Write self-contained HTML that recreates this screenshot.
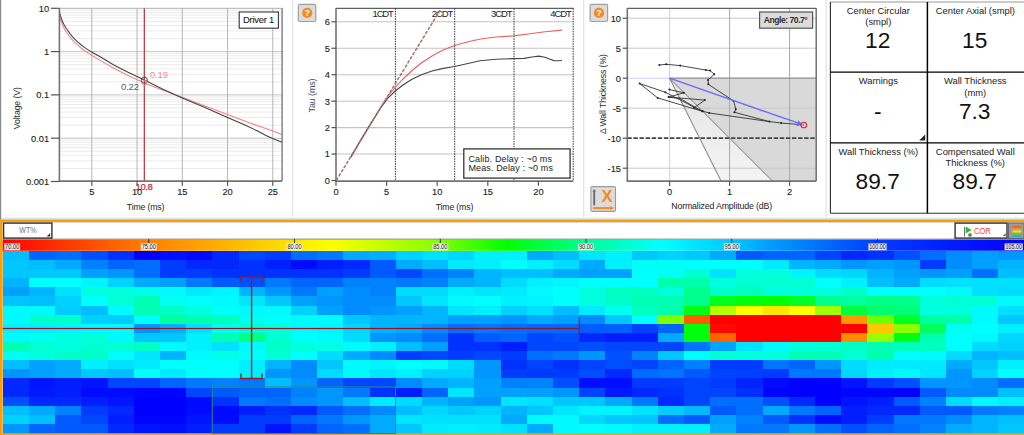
<!DOCTYPE html><html><head><meta charset="utf-8"><title>ui</title><style>html,body{margin:0;padding:0;background:#fff;overflow:hidden}svg{display:block}text{font-family:"Liberation Sans",sans-serif}</style></head><body>
<svg width="1024" height="435" viewBox="0 0 1024 435">
<rect x="0" y="0" width="1024" height="435" fill="#ffffff"/>
<g shape-rendering="crispEdges">
<rect x="2.70" y="250.80" width="26.70" height="9.62" fill="rgb(0, 190, 255)"/>
<rect x="28.90" y="250.80" width="26.70" height="9.62" fill="rgb(0, 100, 255)"/>
<rect x="55.10" y="250.80" width="26.70" height="9.62" fill="rgb(0, 110, 255)"/>
<rect x="81.30" y="250.80" width="26.70" height="9.62" fill="rgb(0, 80, 255)"/>
<rect x="107.50" y="250.80" width="26.70" height="9.62" fill="rgb(0, 50, 255)"/>
<rect x="133.70" y="250.80" width="26.70" height="9.62" fill="rgb(0, 0, 255)"/>
<rect x="159.90" y="250.80" width="26.70" height="9.62" fill="rgb(0, 15, 255)"/>
<rect x="186.10" y="250.80" width="26.70" height="9.62" fill="rgb(0, 10, 255)"/>
<rect x="212.30" y="250.80" width="26.70" height="9.62" fill="rgb(0, 40, 255)"/>
<rect x="238.50" y="250.80" width="26.70" height="9.62" fill="rgb(0, 70, 255)"/>
<rect x="264.70" y="250.80" width="26.70" height="9.62" fill="rgb(0, 60, 255)"/>
<rect x="290.90" y="250.80" width="26.70" height="9.62" fill="rgb(0, 110, 255)"/>
<rect x="317.10" y="250.80" width="26.70" height="9.62" fill="rgb(0, 120, 255)"/>
<rect x="343.30" y="250.80" width="26.70" height="9.62" fill="rgb(0, 170, 255)"/>
<rect x="369.50" y="250.80" width="26.70" height="9.62" fill="rgb(0, 175, 255)"/>
<rect x="395.70" y="250.80" width="26.70" height="9.62" fill="rgb(0, 210, 255)"/>
<rect x="421.90" y="250.80" width="26.70" height="9.62" fill="rgb(0, 225, 255)"/>
<rect x="448.10" y="250.80" width="26.70" height="9.62" fill="rgb(0, 215, 255)"/>
<rect x="474.30" y="250.80" width="26.70" height="9.62" fill="rgb(0, 240, 255)"/>
<rect x="500.50" y="250.80" width="26.70" height="9.62" fill="rgb(0, 240, 255)"/>
<rect x="526.70" y="250.80" width="26.70" height="9.62" fill="rgb(0, 170, 255)"/>
<rect x="552.90" y="250.80" width="26.70" height="9.62" fill="rgb(0, 190, 255)"/>
<rect x="579.10" y="250.80" width="26.70" height="9.62" fill="rgb(0, 230, 255)"/>
<rect x="605.30" y="250.80" width="26.70" height="9.62" fill="rgb(0, 240, 255)"/>
<rect x="631.50" y="250.80" width="26.70" height="9.62" fill="rgb(0, 200, 255)"/>
<rect x="657.70" y="250.80" width="26.70" height="9.62" fill="rgb(0, 210, 255)"/>
<rect x="683.90" y="250.80" width="26.70" height="9.62" fill="rgb(0, 200, 255)"/>
<rect x="710.10" y="250.80" width="26.70" height="9.62" fill="rgb(0, 170, 255)"/>
<rect x="736.30" y="250.80" width="26.70" height="9.62" fill="rgb(0, 90, 255)"/>
<rect x="762.50" y="250.80" width="26.70" height="9.62" fill="rgb(0, 100, 255)"/>
<rect x="788.70" y="250.80" width="26.70" height="9.62" fill="rgb(0, 100, 255)"/>
<rect x="814.90" y="250.80" width="26.70" height="9.62" fill="rgb(0, 70, 255)"/>
<rect x="841.10" y="250.80" width="26.70" height="9.62" fill="rgb(0, 40, 255)"/>
<rect x="867.30" y="250.80" width="26.70" height="9.62" fill="rgb(0, 50, 255)"/>
<rect x="893.50" y="250.80" width="26.70" height="9.62" fill="rgb(0, 80, 255)"/>
<rect x="919.70" y="250.80" width="26.70" height="9.62" fill="rgb(0, 110, 255)"/>
<rect x="945.90" y="250.80" width="26.70" height="9.62" fill="rgb(0, 140, 255)"/>
<rect x="972.10" y="250.80" width="26.70" height="9.62" fill="rgb(0, 160, 255)"/>
<rect x="998.30" y="250.80" width="26.70" height="9.62" fill="rgb(0, 150, 255)"/>
<rect x="2.70" y="259.92" width="26.70" height="9.62" fill="rgb(0, 200, 255)"/>
<rect x="28.90" y="259.92" width="26.70" height="9.62" fill="rgb(0, 190, 255)"/>
<rect x="55.10" y="259.92" width="26.70" height="9.62" fill="rgb(0, 170, 255)"/>
<rect x="81.30" y="259.92" width="26.70" height="9.62" fill="rgb(0, 130, 255)"/>
<rect x="107.50" y="259.92" width="26.70" height="9.62" fill="rgb(0, 100, 255)"/>
<rect x="133.70" y="259.92" width="26.70" height="9.62" fill="rgb(0, 110, 255)"/>
<rect x="159.90" y="259.92" width="26.70" height="9.62" fill="rgb(0, 60, 255)"/>
<rect x="186.10" y="259.92" width="26.70" height="9.62" fill="rgb(0, 40, 255)"/>
<rect x="212.30" y="259.92" width="26.70" height="9.62" fill="rgb(0, 40, 255)"/>
<rect x="238.50" y="259.92" width="26.70" height="9.62" fill="rgb(0, 50, 255)"/>
<rect x="264.70" y="259.92" width="26.70" height="9.62" fill="rgb(0, 30, 255)"/>
<rect x="290.90" y="259.92" width="26.70" height="9.62" fill="rgb(0, 10, 255)"/>
<rect x="317.10" y="259.92" width="26.70" height="9.62" fill="rgb(0, 30, 255)"/>
<rect x="343.30" y="259.92" width="26.70" height="9.62" fill="rgb(0, 40, 255)"/>
<rect x="369.50" y="259.92" width="26.70" height="9.62" fill="rgb(0, 90, 255)"/>
<rect x="395.70" y="259.92" width="26.70" height="9.62" fill="rgb(0, 170, 255)"/>
<rect x="421.90" y="259.92" width="26.70" height="9.62" fill="rgb(0, 190, 255)"/>
<rect x="448.10" y="259.92" width="26.70" height="9.62" fill="rgb(0, 235, 255)"/>
<rect x="474.30" y="259.92" width="26.70" height="9.62" fill="rgb(0, 240, 255)"/>
<rect x="500.50" y="259.92" width="26.70" height="9.62" fill="rgb(0, 255, 255)"/>
<rect x="526.70" y="259.92" width="26.70" height="9.62" fill="rgb(0, 240, 255)"/>
<rect x="552.90" y="259.92" width="26.70" height="9.62" fill="rgb(0, 220, 255)"/>
<rect x="579.10" y="259.92" width="26.70" height="9.62" fill="rgb(0, 170, 255)"/>
<rect x="605.30" y="259.92" width="26.70" height="9.62" fill="rgb(0, 240, 255)"/>
<rect x="631.50" y="259.92" width="26.70" height="9.62" fill="rgb(0, 255, 245)"/>
<rect x="657.70" y="259.92" width="26.70" height="9.62" fill="rgb(0, 255, 245)"/>
<rect x="683.90" y="259.92" width="26.70" height="9.62" fill="rgb(0, 255, 255)"/>
<rect x="710.10" y="259.92" width="26.70" height="9.62" fill="rgb(0, 255, 255)"/>
<rect x="736.30" y="259.92" width="26.70" height="9.62" fill="rgb(0, 255, 255)"/>
<rect x="762.50" y="259.92" width="26.70" height="9.62" fill="rgb(0, 235, 255)"/>
<rect x="788.70" y="259.92" width="26.70" height="9.62" fill="rgb(0, 180, 255)"/>
<rect x="814.90" y="259.92" width="26.70" height="9.62" fill="rgb(0, 170, 255)"/>
<rect x="841.10" y="259.92" width="26.70" height="9.62" fill="rgb(0, 150, 255)"/>
<rect x="867.30" y="259.92" width="26.70" height="9.62" fill="rgb(0, 160, 255)"/>
<rect x="893.50" y="259.92" width="26.70" height="9.62" fill="rgb(0, 150, 255)"/>
<rect x="919.70" y="259.92" width="26.70" height="9.62" fill="rgb(0, 60, 255)"/>
<rect x="945.90" y="259.92" width="26.70" height="9.62" fill="rgb(0, 140, 255)"/>
<rect x="972.10" y="259.92" width="26.70" height="9.62" fill="rgb(0, 160, 255)"/>
<rect x="998.30" y="259.92" width="26.70" height="9.62" fill="rgb(0, 180, 255)"/>
<rect x="2.70" y="269.04" width="26.70" height="9.62" fill="rgb(0, 200, 255)"/>
<rect x="28.90" y="269.04" width="26.70" height="9.62" fill="rgb(0, 200, 255)"/>
<rect x="55.10" y="269.04" width="26.70" height="9.62" fill="rgb(0, 200, 255)"/>
<rect x="81.30" y="269.04" width="26.70" height="9.62" fill="rgb(0, 160, 255)"/>
<rect x="107.50" y="269.04" width="26.70" height="9.62" fill="rgb(0, 150, 255)"/>
<rect x="133.70" y="269.04" width="26.70" height="9.62" fill="rgb(0, 110, 255)"/>
<rect x="159.90" y="269.04" width="26.70" height="9.62" fill="rgb(0, 60, 255)"/>
<rect x="186.10" y="269.04" width="26.70" height="9.62" fill="rgb(0, 60, 255)"/>
<rect x="212.30" y="269.04" width="26.70" height="9.62" fill="rgb(0, 50, 255)"/>
<rect x="238.50" y="269.04" width="26.70" height="9.62" fill="rgb(0, 50, 255)"/>
<rect x="264.70" y="269.04" width="26.70" height="9.62" fill="rgb(0, 50, 255)"/>
<rect x="290.90" y="269.04" width="26.70" height="9.62" fill="rgb(0, 50, 255)"/>
<rect x="317.10" y="269.04" width="26.70" height="9.62" fill="rgb(0, 50, 255)"/>
<rect x="343.30" y="269.04" width="26.70" height="9.62" fill="rgb(0, 60, 255)"/>
<rect x="369.50" y="269.04" width="26.70" height="9.62" fill="rgb(0, 90, 255)"/>
<rect x="395.70" y="269.04" width="26.70" height="9.62" fill="rgb(0, 70, 255)"/>
<rect x="421.90" y="269.04" width="26.70" height="9.62" fill="rgb(0, 110, 255)"/>
<rect x="448.10" y="269.04" width="26.70" height="9.62" fill="rgb(0, 130, 255)"/>
<rect x="474.30" y="269.04" width="26.70" height="9.62" fill="rgb(0, 180, 255)"/>
<rect x="500.50" y="269.04" width="26.70" height="9.62" fill="rgb(0, 190, 255)"/>
<rect x="526.70" y="269.04" width="26.70" height="9.62" fill="rgb(0, 190, 255)"/>
<rect x="552.90" y="269.04" width="26.70" height="9.62" fill="rgb(0, 170, 255)"/>
<rect x="579.10" y="269.04" width="26.70" height="9.62" fill="rgb(0, 160, 255)"/>
<rect x="605.30" y="269.04" width="26.70" height="9.62" fill="rgb(0, 160, 255)"/>
<rect x="631.50" y="269.04" width="26.70" height="9.62" fill="rgb(0, 255, 255)"/>
<rect x="657.70" y="269.04" width="26.70" height="9.62" fill="rgb(0, 255, 245)"/>
<rect x="683.90" y="269.04" width="26.70" height="9.62" fill="rgb(0, 255, 210)"/>
<rect x="710.10" y="269.04" width="26.70" height="9.62" fill="rgb(0, 225, 255)"/>
<rect x="736.30" y="269.04" width="26.70" height="9.62" fill="rgb(0, 255, 220)"/>
<rect x="762.50" y="269.04" width="26.70" height="9.62" fill="rgb(0, 255, 220)"/>
<rect x="788.70" y="269.04" width="26.70" height="9.62" fill="rgb(0, 245, 255)"/>
<rect x="814.90" y="269.04" width="26.70" height="9.62" fill="rgb(0, 220, 255)"/>
<rect x="841.10" y="269.04" width="26.70" height="9.62" fill="rgb(0, 215, 255)"/>
<rect x="867.30" y="269.04" width="26.70" height="9.62" fill="rgb(0, 180, 255)"/>
<rect x="893.50" y="269.04" width="26.70" height="9.62" fill="rgb(0, 160, 255)"/>
<rect x="919.70" y="269.04" width="26.70" height="9.62" fill="rgb(0, 150, 255)"/>
<rect x="945.90" y="269.04" width="26.70" height="9.62" fill="rgb(0, 160, 255)"/>
<rect x="972.10" y="269.04" width="26.70" height="9.62" fill="rgb(0, 110, 255)"/>
<rect x="998.30" y="269.04" width="26.70" height="9.62" fill="rgb(0, 190, 255)"/>
<rect x="2.70" y="278.16" width="26.70" height="9.62" fill="rgb(0, 180, 255)"/>
<rect x="28.90" y="278.16" width="26.70" height="9.62" fill="rgb(0, 255, 255)"/>
<rect x="55.10" y="278.16" width="26.70" height="9.62" fill="rgb(0, 255, 255)"/>
<rect x="81.30" y="278.16" width="26.70" height="9.62" fill="rgb(0, 245, 255)"/>
<rect x="107.50" y="278.16" width="26.70" height="9.62" fill="rgb(0, 210, 255)"/>
<rect x="133.70" y="278.16" width="26.70" height="9.62" fill="rgb(0, 170, 255)"/>
<rect x="159.90" y="278.16" width="26.70" height="9.62" fill="rgb(0, 160, 255)"/>
<rect x="186.10" y="278.16" width="26.70" height="9.62" fill="rgb(0, 120, 255)"/>
<rect x="212.30" y="278.16" width="26.70" height="9.62" fill="rgb(0, 90, 255)"/>
<rect x="238.50" y="278.16" width="26.70" height="9.62" fill="rgb(0, 80, 255)"/>
<rect x="264.70" y="278.16" width="26.70" height="9.62" fill="rgb(0, 120, 255)"/>
<rect x="290.90" y="278.16" width="26.70" height="9.62" fill="rgb(0, 100, 255)"/>
<rect x="317.10" y="278.16" width="26.70" height="9.62" fill="rgb(0, 100, 255)"/>
<rect x="343.30" y="278.16" width="26.70" height="9.62" fill="rgb(0, 130, 255)"/>
<rect x="369.50" y="278.16" width="26.70" height="9.62" fill="rgb(0, 130, 255)"/>
<rect x="395.70" y="278.16" width="26.70" height="9.62" fill="rgb(0, 120, 255)"/>
<rect x="421.90" y="278.16" width="26.70" height="9.62" fill="rgb(0, 130, 255)"/>
<rect x="448.10" y="278.16" width="26.70" height="9.62" fill="rgb(0, 170, 255)"/>
<rect x="474.30" y="278.16" width="26.70" height="9.62" fill="rgb(0, 180, 255)"/>
<rect x="500.50" y="278.16" width="26.70" height="9.62" fill="rgb(0, 220, 255)"/>
<rect x="526.70" y="278.16" width="26.70" height="9.62" fill="rgb(0, 240, 255)"/>
<rect x="552.90" y="278.16" width="26.70" height="9.62" fill="rgb(0, 245, 255)"/>
<rect x="579.10" y="278.16" width="26.70" height="9.62" fill="rgb(0, 255, 255)"/>
<rect x="605.30" y="278.16" width="26.70" height="9.62" fill="rgb(0, 255, 255)"/>
<rect x="631.50" y="278.16" width="26.70" height="9.62" fill="rgb(0, 255, 255)"/>
<rect x="657.70" y="278.16" width="26.70" height="9.62" fill="rgb(0, 255, 170)"/>
<rect x="683.90" y="278.16" width="26.70" height="9.62" fill="rgb(0, 255, 170)"/>
<rect x="710.10" y="278.16" width="26.70" height="9.62" fill="rgb(0, 255, 220)"/>
<rect x="736.30" y="278.16" width="26.70" height="9.62" fill="rgb(0, 255, 210)"/>
<rect x="762.50" y="278.16" width="26.70" height="9.62" fill="rgb(0, 255, 210)"/>
<rect x="788.70" y="278.16" width="26.70" height="9.62" fill="rgb(0, 255, 210)"/>
<rect x="814.90" y="278.16" width="26.70" height="9.62" fill="rgb(0, 255, 255)"/>
<rect x="841.10" y="278.16" width="26.70" height="9.62" fill="rgb(0, 240, 255)"/>
<rect x="867.30" y="278.16" width="26.70" height="9.62" fill="rgb(0, 190, 255)"/>
<rect x="893.50" y="278.16" width="26.70" height="9.62" fill="rgb(0, 170, 255)"/>
<rect x="919.70" y="278.16" width="26.70" height="9.62" fill="rgb(0, 220, 255)"/>
<rect x="945.90" y="278.16" width="26.70" height="9.62" fill="rgb(0, 225, 255)"/>
<rect x="972.10" y="278.16" width="26.70" height="9.62" fill="rgb(0, 225, 255)"/>
<rect x="998.30" y="278.16" width="26.70" height="9.62" fill="rgb(0, 225, 255)"/>
<rect x="2.70" y="287.28" width="26.70" height="9.62" fill="rgb(0, 160, 255)"/>
<rect x="28.90" y="287.28" width="26.70" height="9.62" fill="rgb(0, 180, 255)"/>
<rect x="55.10" y="287.28" width="26.70" height="9.62" fill="rgb(0, 225, 255)"/>
<rect x="81.30" y="287.28" width="26.70" height="9.62" fill="rgb(0, 255, 220)"/>
<rect x="107.50" y="287.28" width="26.70" height="9.62" fill="rgb(0, 255, 220)"/>
<rect x="133.70" y="287.28" width="26.70" height="9.62" fill="rgb(0, 255, 235)"/>
<rect x="159.90" y="287.28" width="26.70" height="9.62" fill="rgb(0, 250, 255)"/>
<rect x="186.10" y="287.28" width="26.70" height="9.62" fill="rgb(0, 235, 255)"/>
<rect x="212.30" y="287.28" width="26.70" height="9.62" fill="rgb(0, 245, 255)"/>
<rect x="238.50" y="287.28" width="26.70" height="9.62" fill="rgb(0, 180, 255)"/>
<rect x="264.70" y="287.28" width="26.70" height="9.62" fill="rgb(0, 150, 255)"/>
<rect x="290.90" y="287.28" width="26.70" height="9.62" fill="rgb(0, 120, 255)"/>
<rect x="317.10" y="287.28" width="26.70" height="9.62" fill="rgb(0, 160, 255)"/>
<rect x="343.30" y="287.28" width="26.70" height="9.62" fill="rgb(0, 140, 255)"/>
<rect x="369.50" y="287.28" width="26.70" height="9.62" fill="rgb(0, 130, 255)"/>
<rect x="395.70" y="287.28" width="26.70" height="9.62" fill="rgb(0, 220, 255)"/>
<rect x="421.90" y="287.28" width="26.70" height="9.62" fill="rgb(0, 220, 255)"/>
<rect x="448.10" y="287.28" width="26.70" height="9.62" fill="rgb(0, 240, 255)"/>
<rect x="474.30" y="287.28" width="26.70" height="9.62" fill="rgb(0, 230, 255)"/>
<rect x="500.50" y="287.28" width="26.70" height="9.62" fill="rgb(0, 235, 255)"/>
<rect x="526.70" y="287.28" width="26.70" height="9.62" fill="rgb(0, 250, 255)"/>
<rect x="552.90" y="287.28" width="26.70" height="9.62" fill="rgb(0, 255, 255)"/>
<rect x="579.10" y="287.28" width="26.70" height="9.62" fill="rgb(0, 255, 220)"/>
<rect x="605.30" y="287.28" width="26.70" height="9.62" fill="rgb(0, 255, 190)"/>
<rect x="631.50" y="287.28" width="26.70" height="9.62" fill="rgb(0, 255, 190)"/>
<rect x="657.70" y="287.28" width="26.70" height="9.62" fill="rgb(0, 255, 220)"/>
<rect x="683.90" y="287.28" width="26.70" height="9.62" fill="rgb(0, 255, 140)"/>
<rect x="710.10" y="287.28" width="26.70" height="9.62" fill="rgb(0, 255, 200)"/>
<rect x="736.30" y="287.28" width="26.70" height="9.62" fill="rgb(0, 255, 190)"/>
<rect x="762.50" y="287.28" width="26.70" height="9.62" fill="rgb(0, 255, 220)"/>
<rect x="788.70" y="287.28" width="26.70" height="9.62" fill="rgb(0, 255, 220)"/>
<rect x="814.90" y="287.28" width="26.70" height="9.62" fill="rgb(0, 255, 225)"/>
<rect x="841.10" y="287.28" width="26.70" height="9.62" fill="rgb(0, 255, 200)"/>
<rect x="867.30" y="287.28" width="26.70" height="9.62" fill="rgb(0, 255, 255)"/>
<rect x="893.50" y="287.28" width="26.70" height="9.62" fill="rgb(0, 255, 255)"/>
<rect x="919.70" y="287.28" width="26.70" height="9.62" fill="rgb(0, 255, 255)"/>
<rect x="945.90" y="287.28" width="26.70" height="9.62" fill="rgb(0, 250, 255)"/>
<rect x="972.10" y="287.28" width="26.70" height="9.62" fill="rgb(0, 225, 255)"/>
<rect x="998.30" y="287.28" width="26.70" height="9.62" fill="rgb(0, 220, 255)"/>
<rect x="2.70" y="296.40" width="26.70" height="9.62" fill="rgb(0, 195, 255)"/>
<rect x="28.90" y="296.40" width="26.70" height="9.62" fill="rgb(0, 190, 255)"/>
<rect x="55.10" y="296.40" width="26.70" height="9.62" fill="rgb(0, 210, 255)"/>
<rect x="81.30" y="296.40" width="26.70" height="9.62" fill="rgb(0, 255, 255)"/>
<rect x="107.50" y="296.40" width="26.70" height="9.62" fill="rgb(0, 255, 215)"/>
<rect x="133.70" y="296.40" width="26.70" height="9.62" fill="rgb(0, 255, 180)"/>
<rect x="159.90" y="296.40" width="26.70" height="9.62" fill="rgb(0, 255, 240)"/>
<rect x="186.10" y="296.40" width="26.70" height="9.62" fill="rgb(0, 255, 255)"/>
<rect x="212.30" y="296.40" width="26.70" height="9.62" fill="rgb(0, 250, 255)"/>
<rect x="238.50" y="296.40" width="26.70" height="9.62" fill="rgb(0, 230, 255)"/>
<rect x="264.70" y="296.40" width="26.70" height="9.62" fill="rgb(0, 200, 255)"/>
<rect x="290.90" y="296.40" width="26.70" height="9.62" fill="rgb(0, 160, 255)"/>
<rect x="317.10" y="296.40" width="26.70" height="9.62" fill="rgb(0, 150, 255)"/>
<rect x="343.30" y="296.40" width="26.70" height="9.62" fill="rgb(0, 140, 255)"/>
<rect x="369.50" y="296.40" width="26.70" height="9.62" fill="rgb(0, 140, 255)"/>
<rect x="395.70" y="296.40" width="26.70" height="9.62" fill="rgb(0, 200, 255)"/>
<rect x="421.90" y="296.40" width="26.70" height="9.62" fill="rgb(0, 230, 255)"/>
<rect x="448.10" y="296.40" width="26.70" height="9.62" fill="rgb(0, 250, 255)"/>
<rect x="474.30" y="296.40" width="26.70" height="9.62" fill="rgb(0, 255, 255)"/>
<rect x="500.50" y="296.40" width="26.70" height="9.62" fill="rgb(0, 240, 255)"/>
<rect x="526.70" y="296.40" width="26.70" height="9.62" fill="rgb(0, 245, 255)"/>
<rect x="552.90" y="296.40" width="26.70" height="9.62" fill="rgb(0, 255, 255)"/>
<rect x="579.10" y="296.40" width="26.70" height="9.62" fill="rgb(0, 255, 220)"/>
<rect x="605.30" y="296.40" width="26.70" height="9.62" fill="rgb(0, 255, 200)"/>
<rect x="631.50" y="296.40" width="26.70" height="9.62" fill="rgb(0, 255, 180)"/>
<rect x="657.70" y="296.40" width="26.70" height="9.62" fill="rgb(0, 255, 180)"/>
<rect x="683.90" y="296.40" width="26.70" height="9.62" fill="rgb(0, 255, 140)"/>
<rect x="710.10" y="296.40" width="26.70" height="9.62" fill="rgb(0, 255, 30)"/>
<rect x="736.30" y="296.40" width="26.70" height="9.62" fill="rgb(0, 255, 10)"/>
<rect x="762.50" y="296.40" width="26.70" height="9.62" fill="rgb(0, 255, 5)"/>
<rect x="788.70" y="296.40" width="26.70" height="9.62" fill="rgb(0, 255, 40)"/>
<rect x="814.90" y="296.40" width="26.70" height="9.62" fill="rgb(0, 255, 140)"/>
<rect x="841.10" y="296.40" width="26.70" height="9.62" fill="rgb(0, 255, 160)"/>
<rect x="867.30" y="296.40" width="26.70" height="9.62" fill="rgb(0, 255, 135)"/>
<rect x="893.50" y="296.40" width="26.70" height="9.62" fill="rgb(0, 255, 140)"/>
<rect x="919.70" y="296.40" width="26.70" height="9.62" fill="rgb(0, 255, 220)"/>
<rect x="945.90" y="296.40" width="26.70" height="9.62" fill="rgb(0, 255, 210)"/>
<rect x="972.10" y="296.40" width="26.70" height="9.62" fill="rgb(0, 255, 210)"/>
<rect x="998.30" y="296.40" width="26.70" height="9.62" fill="rgb(0, 250, 255)"/>
<rect x="2.70" y="305.52" width="26.70" height="9.62" fill="rgb(0, 250, 255)"/>
<rect x="28.90" y="305.52" width="26.70" height="9.62" fill="rgb(0, 250, 255)"/>
<rect x="55.10" y="305.52" width="26.70" height="9.62" fill="rgb(0, 205, 255)"/>
<rect x="81.30" y="305.52" width="26.70" height="9.62" fill="rgb(0, 190, 255)"/>
<rect x="107.50" y="305.52" width="26.70" height="9.62" fill="rgb(0, 250, 255)"/>
<rect x="133.70" y="305.52" width="26.70" height="9.62" fill="rgb(0, 255, 180)"/>
<rect x="159.90" y="305.52" width="26.70" height="9.62" fill="rgb(0, 255, 200)"/>
<rect x="186.10" y="305.52" width="26.70" height="9.62" fill="rgb(0, 255, 225)"/>
<rect x="212.30" y="305.52" width="26.70" height="9.62" fill="rgb(0, 255, 250)"/>
<rect x="238.50" y="305.52" width="26.70" height="9.62" fill="rgb(0, 250, 255)"/>
<rect x="264.70" y="305.52" width="26.70" height="9.62" fill="rgb(0, 250, 255)"/>
<rect x="290.90" y="305.52" width="26.70" height="9.62" fill="rgb(0, 210, 255)"/>
<rect x="317.10" y="305.52" width="26.70" height="9.62" fill="rgb(0, 160, 255)"/>
<rect x="343.30" y="305.52" width="26.70" height="9.62" fill="rgb(0, 140, 255)"/>
<rect x="369.50" y="305.52" width="26.70" height="9.62" fill="rgb(0, 150, 255)"/>
<rect x="395.70" y="305.52" width="26.70" height="9.62" fill="rgb(0, 160, 255)"/>
<rect x="421.90" y="305.52" width="26.70" height="9.62" fill="rgb(0, 180, 255)"/>
<rect x="448.10" y="305.52" width="26.70" height="9.62" fill="rgb(0, 230, 255)"/>
<rect x="474.30" y="305.52" width="26.70" height="9.62" fill="rgb(0, 240, 255)"/>
<rect x="500.50" y="305.52" width="26.70" height="9.62" fill="rgb(0, 210, 255)"/>
<rect x="526.70" y="305.52" width="26.70" height="9.62" fill="rgb(0, 225, 255)"/>
<rect x="552.90" y="305.52" width="26.70" height="9.62" fill="rgb(0, 190, 255)"/>
<rect x="579.10" y="305.52" width="26.70" height="9.62" fill="rgb(0, 235, 255)"/>
<rect x="605.30" y="305.52" width="26.70" height="9.62" fill="rgb(0, 255, 240)"/>
<rect x="631.50" y="305.52" width="26.70" height="9.62" fill="rgb(0, 255, 190)"/>
<rect x="657.70" y="305.52" width="26.70" height="9.62" fill="rgb(0, 255, 170)"/>
<rect x="683.90" y="305.52" width="26.70" height="9.62" fill="rgb(0, 255, 20)"/>
<rect x="710.10" y="305.52" width="26.70" height="9.62" fill="rgb(180, 255, 0)"/>
<rect x="736.30" y="305.52" width="26.70" height="9.62" fill="rgb(255, 255, 0)"/>
<rect x="762.50" y="305.52" width="26.70" height="9.62" fill="rgb(255, 230, 0)"/>
<rect x="788.70" y="305.52" width="26.70" height="9.62" fill="rgb(255, 255, 0)"/>
<rect x="814.90" y="305.52" width="26.70" height="9.62" fill="rgb(160, 255, 0)"/>
<rect x="841.10" y="305.52" width="26.70" height="9.62" fill="rgb(0, 255, 60)"/>
<rect x="867.30" y="305.52" width="26.70" height="9.62" fill="rgb(0, 255, 110)"/>
<rect x="893.50" y="305.52" width="26.70" height="9.62" fill="rgb(0, 255, 120)"/>
<rect x="919.70" y="305.52" width="26.70" height="9.62" fill="rgb(0, 255, 220)"/>
<rect x="945.90" y="305.52" width="26.70" height="9.62" fill="rgb(0, 255, 220)"/>
<rect x="972.10" y="305.52" width="26.70" height="9.62" fill="rgb(0, 250, 255)"/>
<rect x="998.30" y="305.52" width="26.70" height="9.62" fill="rgb(0, 225, 255)"/>
<rect x="2.70" y="314.64" width="26.70" height="9.62" fill="rgb(0, 250, 255)"/>
<rect x="28.90" y="314.64" width="26.70" height="9.62" fill="rgb(0, 255, 200)"/>
<rect x="55.10" y="314.64" width="26.70" height="9.62" fill="rgb(0, 255, 200)"/>
<rect x="81.30" y="314.64" width="26.70" height="9.62" fill="rgb(0, 210, 255)"/>
<rect x="107.50" y="314.64" width="26.70" height="9.62" fill="rgb(0, 205, 255)"/>
<rect x="133.70" y="314.64" width="26.70" height="9.62" fill="rgb(0, 255, 250)"/>
<rect x="159.90" y="314.64" width="26.70" height="9.62" fill="rgb(0, 255, 160)"/>
<rect x="186.10" y="314.64" width="26.70" height="9.62" fill="rgb(0, 255, 175)"/>
<rect x="212.30" y="314.64" width="26.70" height="9.62" fill="rgb(0, 255, 190)"/>
<rect x="238.50" y="314.64" width="26.70" height="9.62" fill="rgb(0, 255, 240)"/>
<rect x="264.70" y="314.64" width="26.70" height="9.62" fill="rgb(0, 255, 255)"/>
<rect x="290.90" y="314.64" width="26.70" height="9.62" fill="rgb(0, 250, 255)"/>
<rect x="317.10" y="314.64" width="26.70" height="9.62" fill="rgb(0, 250, 255)"/>
<rect x="343.30" y="314.64" width="26.70" height="9.62" fill="rgb(0, 200, 255)"/>
<rect x="369.50" y="314.64" width="26.70" height="9.62" fill="rgb(0, 180, 255)"/>
<rect x="395.70" y="314.64" width="26.70" height="9.62" fill="rgb(0, 180, 255)"/>
<rect x="421.90" y="314.64" width="26.70" height="9.62" fill="rgb(0, 180, 255)"/>
<rect x="448.10" y="314.64" width="26.70" height="9.62" fill="rgb(0, 160, 255)"/>
<rect x="474.30" y="314.64" width="26.70" height="9.62" fill="rgb(0, 160, 255)"/>
<rect x="500.50" y="314.64" width="26.70" height="9.62" fill="rgb(0, 150, 255)"/>
<rect x="526.70" y="314.64" width="26.70" height="9.62" fill="rgb(0, 170, 255)"/>
<rect x="552.90" y="314.64" width="26.70" height="9.62" fill="rgb(0, 160, 255)"/>
<rect x="579.10" y="314.64" width="26.70" height="9.62" fill="rgb(0, 140, 255)"/>
<rect x="605.30" y="314.64" width="26.70" height="9.62" fill="rgb(0, 200, 255)"/>
<rect x="631.50" y="314.64" width="26.70" height="9.62" fill="rgb(0, 255, 255)"/>
<rect x="657.70" y="314.64" width="26.70" height="9.62" fill="rgb(130, 255, 0)"/>
<rect x="683.90" y="314.64" width="26.70" height="9.62" fill="rgb(255, 90, 0)"/>
<rect x="710.10" y="314.64" width="26.70" height="9.62" fill="rgb(255, 0, 0)"/>
<rect x="736.30" y="314.64" width="26.70" height="9.62" fill="rgb(255, 0, 0)"/>
<rect x="762.50" y="314.64" width="26.70" height="9.62" fill="rgb(255, 0, 0)"/>
<rect x="788.70" y="314.64" width="26.70" height="9.62" fill="rgb(255, 0, 0)"/>
<rect x="814.90" y="314.64" width="26.70" height="9.62" fill="rgb(255, 0, 0)"/>
<rect x="841.10" y="314.64" width="26.70" height="9.62" fill="rgb(255, 150, 0)"/>
<rect x="867.30" y="314.64" width="26.70" height="9.62" fill="rgb(110, 255, 0)"/>
<rect x="893.50" y="314.64" width="26.70" height="9.62" fill="rgb(0, 255, 40)"/>
<rect x="919.70" y="314.64" width="26.70" height="9.62" fill="rgb(0, 255, 160)"/>
<rect x="945.90" y="314.64" width="26.70" height="9.62" fill="rgb(0, 255, 170)"/>
<rect x="972.10" y="314.64" width="26.70" height="9.62" fill="rgb(0, 250, 255)"/>
<rect x="998.30" y="314.64" width="26.70" height="9.62" fill="rgb(0, 200, 255)"/>
<rect x="2.70" y="323.76" width="26.70" height="9.62" fill="rgb(0, 240, 255)"/>
<rect x="28.90" y="323.76" width="26.70" height="9.62" fill="rgb(0, 240, 255)"/>
<rect x="55.10" y="323.76" width="26.70" height="9.62" fill="rgb(0, 245, 255)"/>
<rect x="81.30" y="323.76" width="26.70" height="9.62" fill="rgb(0, 250, 255)"/>
<rect x="107.50" y="323.76" width="26.70" height="9.62" fill="rgb(0, 250, 255)"/>
<rect x="133.70" y="323.76" width="26.70" height="9.62" fill="rgb(0, 150, 255)"/>
<rect x="159.90" y="323.76" width="26.70" height="9.62" fill="rgb(0, 175, 255)"/>
<rect x="186.10" y="323.76" width="26.70" height="9.62" fill="rgb(0, 225, 255)"/>
<rect x="212.30" y="323.76" width="26.70" height="9.62" fill="rgb(0, 255, 240)"/>
<rect x="238.50" y="323.76" width="26.70" height="9.62" fill="rgb(0, 255, 210)"/>
<rect x="264.70" y="323.76" width="26.70" height="9.62" fill="rgb(0, 255, 220)"/>
<rect x="290.90" y="323.76" width="26.70" height="9.62" fill="rgb(0, 250, 255)"/>
<rect x="317.10" y="323.76" width="26.70" height="9.62" fill="rgb(0, 245, 255)"/>
<rect x="343.30" y="323.76" width="26.70" height="9.62" fill="rgb(0, 215, 255)"/>
<rect x="369.50" y="323.76" width="26.70" height="9.62" fill="rgb(0, 180, 255)"/>
<rect x="395.70" y="323.76" width="26.70" height="9.62" fill="rgb(0, 170, 255)"/>
<rect x="421.90" y="323.76" width="26.70" height="9.62" fill="rgb(0, 140, 255)"/>
<rect x="448.10" y="323.76" width="26.70" height="9.62" fill="rgb(0, 110, 255)"/>
<rect x="474.30" y="323.76" width="26.70" height="9.62" fill="rgb(0, 120, 255)"/>
<rect x="500.50" y="323.76" width="26.70" height="9.62" fill="rgb(0, 110, 255)"/>
<rect x="526.70" y="323.76" width="26.70" height="9.62" fill="rgb(0, 105, 255)"/>
<rect x="552.90" y="323.76" width="26.70" height="9.62" fill="rgb(0, 105, 255)"/>
<rect x="579.10" y="323.76" width="26.70" height="9.62" fill="rgb(0, 92, 255)"/>
<rect x="605.30" y="323.76" width="26.70" height="9.62" fill="rgb(0, 95, 255)"/>
<rect x="631.50" y="323.76" width="26.70" height="9.62" fill="rgb(0, 65, 255)"/>
<rect x="657.70" y="323.76" width="26.70" height="9.62" fill="rgb(0, 100, 255)"/>
<rect x="683.90" y="323.76" width="26.70" height="9.62" fill="rgb(0, 255, 10)"/>
<rect x="710.10" y="323.76" width="26.70" height="9.62" fill="rgb(255, 10, 0)"/>
<rect x="736.30" y="323.76" width="26.70" height="9.62" fill="rgb(255, 0, 0)"/>
<rect x="762.50" y="323.76" width="26.70" height="9.62" fill="rgb(255, 0, 0)"/>
<rect x="788.70" y="323.76" width="26.70" height="9.62" fill="rgb(255, 0, 0)"/>
<rect x="814.90" y="323.76" width="26.70" height="9.62" fill="rgb(255, 0, 0)"/>
<rect x="841.10" y="323.76" width="26.70" height="9.62" fill="rgb(255, 0, 0)"/>
<rect x="867.30" y="323.76" width="26.70" height="9.62" fill="rgb(255, 200, 0)"/>
<rect x="893.50" y="323.76" width="26.70" height="9.62" fill="rgb(140, 255, 0)"/>
<rect x="919.70" y="323.76" width="26.70" height="9.62" fill="rgb(0, 255, 90)"/>
<rect x="945.90" y="323.76" width="26.70" height="9.62" fill="rgb(0, 255, 240)"/>
<rect x="972.10" y="323.76" width="26.70" height="9.62" fill="rgb(0, 255, 255)"/>
<rect x="998.30" y="323.76" width="26.70" height="9.62" fill="rgb(0, 240, 255)"/>
<rect x="2.70" y="332.88" width="26.70" height="9.62" fill="rgb(0, 250, 255)"/>
<rect x="28.90" y="332.88" width="26.70" height="9.62" fill="rgb(0, 255, 240)"/>
<rect x="55.10" y="332.88" width="26.70" height="9.62" fill="rgb(0, 255, 225)"/>
<rect x="81.30" y="332.88" width="26.70" height="9.62" fill="rgb(0, 255, 215)"/>
<rect x="107.50" y="332.88" width="26.70" height="9.62" fill="rgb(0, 250, 255)"/>
<rect x="133.70" y="332.88" width="26.70" height="9.62" fill="rgb(0, 200, 255)"/>
<rect x="159.90" y="332.88" width="26.70" height="9.62" fill="rgb(0, 200, 255)"/>
<rect x="186.10" y="332.88" width="26.70" height="9.62" fill="rgb(0, 240, 255)"/>
<rect x="212.30" y="332.88" width="26.70" height="9.62" fill="rgb(0, 255, 180)"/>
<rect x="238.50" y="332.88" width="26.70" height="9.62" fill="rgb(0, 255, 130)"/>
<rect x="264.70" y="332.88" width="26.70" height="9.62" fill="rgb(0, 255, 210)"/>
<rect x="290.90" y="332.88" width="26.70" height="9.62" fill="rgb(0, 255, 255)"/>
<rect x="317.10" y="332.88" width="26.70" height="9.62" fill="rgb(0, 250, 255)"/>
<rect x="343.30" y="332.88" width="26.70" height="9.62" fill="rgb(0, 220, 255)"/>
<rect x="369.50" y="332.88" width="26.70" height="9.62" fill="rgb(0, 150, 255)"/>
<rect x="395.70" y="332.88" width="26.70" height="9.62" fill="rgb(0, 140, 255)"/>
<rect x="421.90" y="332.88" width="26.70" height="9.62" fill="rgb(0, 110, 255)"/>
<rect x="448.10" y="332.88" width="26.70" height="9.62" fill="rgb(0, 50, 255)"/>
<rect x="474.30" y="332.88" width="26.70" height="9.62" fill="rgb(0, 90, 255)"/>
<rect x="500.50" y="332.88" width="26.70" height="9.62" fill="rgb(0, 100, 255)"/>
<rect x="526.70" y="332.88" width="26.70" height="9.62" fill="rgb(0, 70, 255)"/>
<rect x="552.90" y="332.88" width="26.70" height="9.62" fill="rgb(0, 80, 255)"/>
<rect x="579.10" y="332.88" width="26.70" height="9.62" fill="rgb(0, 40, 255)"/>
<rect x="605.30" y="332.88" width="26.70" height="9.62" fill="rgb(0, 30, 255)"/>
<rect x="631.50" y="332.88" width="26.70" height="9.62" fill="rgb(0, 30, 255)"/>
<rect x="657.70" y="332.88" width="26.70" height="9.62" fill="rgb(0, 170, 255)"/>
<rect x="683.90" y="332.88" width="26.70" height="9.62" fill="rgb(0, 255, 10)"/>
<rect x="710.10" y="332.88" width="26.70" height="9.62" fill="rgb(255, 100, 0)"/>
<rect x="736.30" y="332.88" width="26.70" height="9.62" fill="rgb(255, 0, 0)"/>
<rect x="762.50" y="332.88" width="26.70" height="9.62" fill="rgb(255, 0, 0)"/>
<rect x="788.70" y="332.88" width="26.70" height="9.62" fill="rgb(255, 0, 0)"/>
<rect x="814.90" y="332.88" width="26.70" height="9.62" fill="rgb(255, 0, 0)"/>
<rect x="841.10" y="332.88" width="26.70" height="9.62" fill="rgb(255, 140, 0)"/>
<rect x="867.30" y="332.88" width="26.70" height="9.62" fill="rgb(150, 255, 0)"/>
<rect x="893.50" y="332.88" width="26.70" height="9.62" fill="rgb(0, 255, 20)"/>
<rect x="919.70" y="332.88" width="26.70" height="9.62" fill="rgb(0, 255, 180)"/>
<rect x="945.90" y="332.88" width="26.70" height="9.62" fill="rgb(0, 255, 255)"/>
<rect x="972.10" y="332.88" width="26.70" height="9.62" fill="rgb(0, 250, 255)"/>
<rect x="998.30" y="332.88" width="26.70" height="9.62" fill="rgb(0, 215, 255)"/>
<rect x="2.70" y="342.00" width="26.70" height="9.62" fill="rgb(0, 255, 180)"/>
<rect x="28.90" y="342.00" width="26.70" height="9.62" fill="rgb(0, 255, 210)"/>
<rect x="55.10" y="342.00" width="26.70" height="9.62" fill="rgb(0, 255, 220)"/>
<rect x="81.30" y="342.00" width="26.70" height="9.62" fill="rgb(0, 255, 210)"/>
<rect x="107.50" y="342.00" width="26.70" height="9.62" fill="rgb(0, 255, 210)"/>
<rect x="133.70" y="342.00" width="26.70" height="9.62" fill="rgb(0, 255, 200)"/>
<rect x="159.90" y="342.00" width="26.70" height="9.62" fill="rgb(0, 250, 255)"/>
<rect x="186.10" y="342.00" width="26.70" height="9.62" fill="rgb(0, 240, 255)"/>
<rect x="212.30" y="342.00" width="26.70" height="9.62" fill="rgb(0, 225, 255)"/>
<rect x="238.50" y="342.00" width="26.70" height="9.62" fill="rgb(0, 250, 255)"/>
<rect x="264.70" y="342.00" width="26.70" height="9.62" fill="rgb(0, 255, 200)"/>
<rect x="290.90" y="342.00" width="26.70" height="9.62" fill="rgb(0, 255, 220)"/>
<rect x="317.10" y="342.00" width="26.70" height="9.62" fill="rgb(0, 255, 230)"/>
<rect x="343.30" y="342.00" width="26.70" height="9.62" fill="rgb(0, 250, 255)"/>
<rect x="369.50" y="342.00" width="26.70" height="9.62" fill="rgb(0, 240, 255)"/>
<rect x="395.70" y="342.00" width="26.70" height="9.62" fill="rgb(0, 190, 255)"/>
<rect x="421.90" y="342.00" width="26.70" height="9.62" fill="rgb(0, 160, 255)"/>
<rect x="448.10" y="342.00" width="26.70" height="9.62" fill="rgb(0, 50, 255)"/>
<rect x="474.30" y="342.00" width="26.70" height="9.62" fill="rgb(0, 50, 255)"/>
<rect x="500.50" y="342.00" width="26.70" height="9.62" fill="rgb(0, 30, 255)"/>
<rect x="526.70" y="342.00" width="26.70" height="9.62" fill="rgb(0, 70, 255)"/>
<rect x="552.90" y="342.00" width="26.70" height="9.62" fill="rgb(0, 70, 255)"/>
<rect x="579.10" y="342.00" width="26.70" height="9.62" fill="rgb(0, 80, 255)"/>
<rect x="605.30" y="342.00" width="26.70" height="9.62" fill="rgb(0, 70, 255)"/>
<rect x="631.50" y="342.00" width="26.70" height="9.62" fill="rgb(0, 70, 255)"/>
<rect x="657.70" y="342.00" width="26.70" height="9.62" fill="rgb(0, 70, 255)"/>
<rect x="683.90" y="342.00" width="26.70" height="9.62" fill="rgb(0, 118, 255)"/>
<rect x="710.10" y="342.00" width="26.70" height="9.62" fill="rgb(0, 165, 255)"/>
<rect x="736.30" y="342.00" width="26.70" height="9.62" fill="rgb(0, 228, 255)"/>
<rect x="762.50" y="342.00" width="26.70" height="9.62" fill="rgb(0, 250, 255)"/>
<rect x="788.70" y="342.00" width="26.70" height="9.62" fill="rgb(0, 255, 220)"/>
<rect x="814.90" y="342.00" width="26.70" height="9.62" fill="rgb(0, 255, 210)"/>
<rect x="841.10" y="342.00" width="26.70" height="9.62" fill="rgb(0, 255, 200)"/>
<rect x="867.30" y="342.00" width="26.70" height="9.62" fill="rgb(0, 255, 180)"/>
<rect x="893.50" y="342.00" width="26.70" height="9.62" fill="rgb(0, 255, 190)"/>
<rect x="919.70" y="342.00" width="26.70" height="9.62" fill="rgb(0, 255, 190)"/>
<rect x="945.90" y="342.00" width="26.70" height="9.62" fill="rgb(0, 255, 255)"/>
<rect x="972.10" y="342.00" width="26.70" height="9.62" fill="rgb(0, 220, 255)"/>
<rect x="998.30" y="342.00" width="26.70" height="9.62" fill="rgb(0, 210, 255)"/>
<rect x="2.70" y="351.12" width="26.70" height="9.62" fill="rgb(0, 255, 240)"/>
<rect x="28.90" y="351.12" width="26.70" height="9.62" fill="rgb(0, 255, 220)"/>
<rect x="55.10" y="351.12" width="26.70" height="9.62" fill="rgb(0, 255, 200)"/>
<rect x="81.30" y="351.12" width="26.70" height="9.62" fill="rgb(0, 255, 200)"/>
<rect x="107.50" y="351.12" width="26.70" height="9.62" fill="rgb(0, 255, 250)"/>
<rect x="133.70" y="351.12" width="26.70" height="9.62" fill="rgb(0, 230, 255)"/>
<rect x="159.90" y="351.12" width="26.70" height="9.62" fill="rgb(0, 180, 255)"/>
<rect x="186.10" y="351.12" width="26.70" height="9.62" fill="rgb(0, 250, 255)"/>
<rect x="212.30" y="351.12" width="26.70" height="9.62" fill="rgb(0, 255, 230)"/>
<rect x="238.50" y="351.12" width="26.70" height="9.62" fill="rgb(0, 255, 250)"/>
<rect x="264.70" y="351.12" width="26.70" height="9.62" fill="rgb(0, 255, 210)"/>
<rect x="290.90" y="351.12" width="26.70" height="9.62" fill="rgb(0, 255, 255)"/>
<rect x="317.10" y="351.12" width="26.70" height="9.62" fill="rgb(0, 220, 255)"/>
<rect x="343.30" y="351.12" width="26.70" height="9.62" fill="rgb(0, 170, 255)"/>
<rect x="369.50" y="351.12" width="26.70" height="9.62" fill="rgb(0, 140, 255)"/>
<rect x="395.70" y="351.12" width="26.70" height="9.62" fill="rgb(0, 60, 255)"/>
<rect x="421.90" y="351.12" width="26.70" height="9.62" fill="rgb(0, 70, 255)"/>
<rect x="448.10" y="351.12" width="26.70" height="9.62" fill="rgb(0, 60, 255)"/>
<rect x="474.30" y="351.12" width="26.70" height="9.62" fill="rgb(0, 70, 255)"/>
<rect x="500.50" y="351.12" width="26.70" height="9.62" fill="rgb(0, 60, 255)"/>
<rect x="526.70" y="351.12" width="26.70" height="9.62" fill="rgb(0, 110, 255)"/>
<rect x="552.90" y="351.12" width="26.70" height="9.62" fill="rgb(0, 120, 255)"/>
<rect x="579.10" y="351.12" width="26.70" height="9.62" fill="rgb(0, 150, 255)"/>
<rect x="605.30" y="351.12" width="26.70" height="9.62" fill="rgb(0, 80, 255)"/>
<rect x="631.50" y="351.12" width="26.70" height="9.62" fill="rgb(0, 130, 255)"/>
<rect x="657.70" y="351.12" width="26.70" height="9.62" fill="rgb(0, 200, 255)"/>
<rect x="683.90" y="351.12" width="26.70" height="9.62" fill="rgb(0, 255, 255)"/>
<rect x="710.10" y="351.12" width="26.70" height="9.62" fill="rgb(0, 255, 210)"/>
<rect x="736.30" y="351.12" width="26.70" height="9.62" fill="rgb(0, 255, 220)"/>
<rect x="762.50" y="351.12" width="26.70" height="9.62" fill="rgb(0, 255, 220)"/>
<rect x="788.70" y="351.12" width="26.70" height="9.62" fill="rgb(0, 255, 180)"/>
<rect x="814.90" y="351.12" width="26.70" height="9.62" fill="rgb(0, 255, 180)"/>
<rect x="841.10" y="351.12" width="26.70" height="9.62" fill="rgb(0, 255, 210)"/>
<rect x="867.30" y="351.12" width="26.70" height="9.62" fill="rgb(0, 255, 170)"/>
<rect x="893.50" y="351.12" width="26.70" height="9.62" fill="rgb(0, 255, 250)"/>
<rect x="919.70" y="351.12" width="26.70" height="9.62" fill="rgb(0, 250, 255)"/>
<rect x="945.90" y="351.12" width="26.70" height="9.62" fill="rgb(0, 220, 255)"/>
<rect x="972.10" y="351.12" width="26.70" height="9.62" fill="rgb(0, 180, 255)"/>
<rect x="998.30" y="351.12" width="26.70" height="9.62" fill="rgb(0, 190, 255)"/>
<rect x="2.70" y="360.24" width="26.70" height="9.62" fill="rgb(0, 190, 255)"/>
<rect x="28.90" y="360.24" width="26.70" height="9.62" fill="rgb(0, 160, 255)"/>
<rect x="55.10" y="360.24" width="26.70" height="9.62" fill="rgb(0, 170, 255)"/>
<rect x="81.30" y="360.24" width="26.70" height="9.62" fill="rgb(0, 240, 255)"/>
<rect x="107.50" y="360.24" width="26.70" height="9.62" fill="rgb(0, 225, 255)"/>
<rect x="133.70" y="360.24" width="26.70" height="9.62" fill="rgb(0, 235, 255)"/>
<rect x="159.90" y="360.24" width="26.70" height="9.62" fill="rgb(0, 255, 255)"/>
<rect x="186.10" y="360.24" width="26.70" height="9.62" fill="rgb(0, 255, 255)"/>
<rect x="212.30" y="360.24" width="26.70" height="9.62" fill="rgb(0, 255, 255)"/>
<rect x="238.50" y="360.24" width="26.70" height="9.62" fill="rgb(0, 240, 255)"/>
<rect x="264.70" y="360.24" width="26.70" height="9.62" fill="rgb(0, 180, 255)"/>
<rect x="290.90" y="360.24" width="26.70" height="9.62" fill="rgb(0, 140, 255)"/>
<rect x="317.10" y="360.24" width="26.70" height="9.62" fill="rgb(0, 200, 255)"/>
<rect x="343.30" y="360.24" width="26.70" height="9.62" fill="rgb(0, 250, 255)"/>
<rect x="369.50" y="360.24" width="26.70" height="9.62" fill="rgb(0, 245, 255)"/>
<rect x="395.70" y="360.24" width="26.70" height="9.62" fill="rgb(0, 255, 255)"/>
<rect x="421.90" y="360.24" width="26.70" height="9.62" fill="rgb(0, 250, 255)"/>
<rect x="448.10" y="360.24" width="26.70" height="9.62" fill="rgb(0, 220, 255)"/>
<rect x="474.30" y="360.24" width="26.70" height="9.62" fill="rgb(0, 150, 255)"/>
<rect x="500.50" y="360.24" width="26.70" height="9.62" fill="rgb(0, 50, 255)"/>
<rect x="526.70" y="360.24" width="26.70" height="9.62" fill="rgb(0, 68, 255)"/>
<rect x="552.90" y="360.24" width="26.70" height="9.62" fill="rgb(0, 50, 255)"/>
<rect x="579.10" y="360.24" width="26.70" height="9.62" fill="rgb(0, 68, 255)"/>
<rect x="605.30" y="360.24" width="26.70" height="9.62" fill="rgb(0, 78, 255)"/>
<rect x="631.50" y="360.24" width="26.70" height="9.62" fill="rgb(0, 68, 255)"/>
<rect x="657.70" y="360.24" width="26.70" height="9.62" fill="rgb(0, 98, 255)"/>
<rect x="683.90" y="360.24" width="26.70" height="9.62" fill="rgb(0, 128, 255)"/>
<rect x="710.10" y="360.24" width="26.70" height="9.62" fill="rgb(0, 60, 255)"/>
<rect x="736.30" y="360.24" width="26.70" height="9.62" fill="rgb(0, 60, 255)"/>
<rect x="762.50" y="360.24" width="26.70" height="9.62" fill="rgb(0, 118, 255)"/>
<rect x="788.70" y="360.24" width="26.70" height="9.62" fill="rgb(0, 100, 255)"/>
<rect x="814.90" y="360.24" width="26.70" height="9.62" fill="rgb(0, 150, 255)"/>
<rect x="841.10" y="360.24" width="26.70" height="9.62" fill="rgb(0, 220, 255)"/>
<rect x="867.30" y="360.24" width="26.70" height="9.62" fill="rgb(0, 235, 255)"/>
<rect x="893.50" y="360.24" width="26.70" height="9.62" fill="rgb(0, 235, 255)"/>
<rect x="919.70" y="360.24" width="26.70" height="9.62" fill="rgb(0, 235, 255)"/>
<rect x="945.90" y="360.24" width="26.70" height="9.62" fill="rgb(0, 170, 255)"/>
<rect x="972.10" y="360.24" width="26.70" height="9.62" fill="rgb(0, 200, 255)"/>
<rect x="998.30" y="360.24" width="26.70" height="9.62" fill="rgb(0, 240, 255)"/>
<rect x="2.70" y="369.36" width="26.70" height="9.62" fill="rgb(0, 150, 255)"/>
<rect x="28.90" y="369.36" width="26.70" height="9.62" fill="rgb(0, 160, 255)"/>
<rect x="55.10" y="369.36" width="26.70" height="9.62" fill="rgb(0, 170, 255)"/>
<rect x="81.30" y="369.36" width="26.70" height="9.62" fill="rgb(0, 200, 255)"/>
<rect x="107.50" y="369.36" width="26.70" height="9.62" fill="rgb(0, 190, 255)"/>
<rect x="133.70" y="369.36" width="26.70" height="9.62" fill="rgb(0, 255, 255)"/>
<rect x="159.90" y="369.36" width="26.70" height="9.62" fill="rgb(0, 235, 255)"/>
<rect x="186.10" y="369.36" width="26.70" height="9.62" fill="rgb(0, 255, 255)"/>
<rect x="212.30" y="369.36" width="26.70" height="9.62" fill="rgb(0, 255, 255)"/>
<rect x="238.50" y="369.36" width="26.70" height="9.62" fill="rgb(0, 240, 255)"/>
<rect x="264.70" y="369.36" width="26.70" height="9.62" fill="rgb(0, 150, 255)"/>
<rect x="290.90" y="369.36" width="26.70" height="9.62" fill="rgb(0, 140, 255)"/>
<rect x="317.10" y="369.36" width="26.70" height="9.62" fill="rgb(0, 220, 255)"/>
<rect x="343.30" y="369.36" width="26.70" height="9.62" fill="rgb(0, 250, 255)"/>
<rect x="369.50" y="369.36" width="26.70" height="9.62" fill="rgb(0, 230, 255)"/>
<rect x="395.70" y="369.36" width="26.70" height="9.62" fill="rgb(0, 240, 255)"/>
<rect x="421.90" y="369.36" width="26.70" height="9.62" fill="rgb(0, 210, 255)"/>
<rect x="448.10" y="369.36" width="26.70" height="9.62" fill="rgb(0, 210, 255)"/>
<rect x="474.30" y="369.36" width="26.70" height="9.62" fill="rgb(0, 150, 255)"/>
<rect x="500.50" y="369.36" width="26.70" height="9.62" fill="rgb(0, 60, 255)"/>
<rect x="526.70" y="369.36" width="26.70" height="9.62" fill="rgb(0, 58, 255)"/>
<rect x="552.90" y="369.36" width="26.70" height="9.62" fill="rgb(0, 58, 255)"/>
<rect x="579.10" y="369.36" width="26.70" height="9.62" fill="rgb(0, 78, 255)"/>
<rect x="605.30" y="369.36" width="26.70" height="9.62" fill="rgb(0, 40, 255)"/>
<rect x="631.50" y="369.36" width="26.70" height="9.62" fill="rgb(0, 108, 255)"/>
<rect x="657.70" y="369.36" width="26.70" height="9.62" fill="rgb(0, 115, 255)"/>
<rect x="683.90" y="369.36" width="26.70" height="9.62" fill="rgb(0, 88, 255)"/>
<rect x="710.10" y="369.36" width="26.70" height="9.62" fill="rgb(0, 68, 255)"/>
<rect x="736.30" y="369.36" width="26.70" height="9.62" fill="rgb(0, 65, 255)"/>
<rect x="762.50" y="369.36" width="26.70" height="9.62" fill="rgb(0, 58, 255)"/>
<rect x="788.70" y="369.36" width="26.70" height="9.62" fill="rgb(0, 120, 255)"/>
<rect x="814.90" y="369.36" width="26.70" height="9.62" fill="rgb(0, 120, 255)"/>
<rect x="841.10" y="369.36" width="26.70" height="9.62" fill="rgb(0, 215, 255)"/>
<rect x="867.30" y="369.36" width="26.70" height="9.62" fill="rgb(0, 240, 255)"/>
<rect x="893.50" y="369.36" width="26.70" height="9.62" fill="rgb(0, 250, 255)"/>
<rect x="919.70" y="369.36" width="26.70" height="9.62" fill="rgb(0, 230, 255)"/>
<rect x="945.90" y="369.36" width="26.70" height="9.62" fill="rgb(0, 150, 255)"/>
<rect x="972.10" y="369.36" width="26.70" height="9.62" fill="rgb(0, 210, 255)"/>
<rect x="998.30" y="369.36" width="26.70" height="9.62" fill="rgb(0, 255, 255)"/>
<rect x="2.70" y="378.48" width="26.70" height="9.62" fill="rgb(0, 40, 255)"/>
<rect x="28.90" y="378.48" width="26.70" height="9.62" fill="rgb(0, 20, 255)"/>
<rect x="55.10" y="378.48" width="26.70" height="9.62" fill="rgb(0, 30, 255)"/>
<rect x="81.30" y="378.48" width="26.70" height="9.62" fill="rgb(0, 20, 255)"/>
<rect x="107.50" y="378.48" width="26.70" height="9.62" fill="rgb(0, 70, 255)"/>
<rect x="133.70" y="378.48" width="26.70" height="9.62" fill="rgb(0, 70, 255)"/>
<rect x="159.90" y="378.48" width="26.70" height="9.62" fill="rgb(0, 100, 255)"/>
<rect x="186.10" y="378.48" width="26.70" height="9.62" fill="rgb(0, 120, 255)"/>
<rect x="212.30" y="378.48" width="26.70" height="9.62" fill="rgb(0, 130, 255)"/>
<rect x="238.50" y="378.48" width="26.70" height="9.62" fill="rgb(0, 120, 255)"/>
<rect x="264.70" y="378.48" width="26.70" height="9.62" fill="rgb(0, 190, 255)"/>
<rect x="290.90" y="378.48" width="26.70" height="9.62" fill="rgb(0, 150, 255)"/>
<rect x="317.10" y="378.48" width="26.70" height="9.62" fill="rgb(0, 100, 255)"/>
<rect x="343.30" y="378.48" width="26.70" height="9.62" fill="rgb(0, 70, 255)"/>
<rect x="369.50" y="378.48" width="26.70" height="9.62" fill="rgb(0, 70, 255)"/>
<rect x="395.70" y="378.48" width="26.70" height="9.62" fill="rgb(0, 140, 255)"/>
<rect x="421.90" y="378.48" width="26.70" height="9.62" fill="rgb(0, 170, 255)"/>
<rect x="448.10" y="378.48" width="26.70" height="9.62" fill="rgb(0, 180, 255)"/>
<rect x="474.30" y="378.48" width="26.70" height="9.62" fill="rgb(0, 160, 255)"/>
<rect x="500.50" y="378.48" width="26.70" height="9.62" fill="rgb(0, 130, 255)"/>
<rect x="526.70" y="378.48" width="26.70" height="9.62" fill="rgb(0, 130, 255)"/>
<rect x="552.90" y="378.48" width="26.70" height="9.62" fill="rgb(0, 78, 255)"/>
<rect x="579.10" y="378.48" width="26.70" height="9.62" fill="rgb(0, 14, 255)"/>
<rect x="605.30" y="378.48" width="26.70" height="9.62" fill="rgb(0, 14, 255)"/>
<rect x="631.50" y="378.48" width="26.70" height="9.62" fill="rgb(0, 58, 255)"/>
<rect x="657.70" y="378.48" width="26.70" height="9.62" fill="rgb(0, 58, 255)"/>
<rect x="683.90" y="378.48" width="26.70" height="9.62" fill="rgb(0, 68, 255)"/>
<rect x="710.10" y="378.48" width="26.70" height="9.62" fill="rgb(0, 58, 255)"/>
<rect x="736.30" y="378.48" width="26.70" height="9.62" fill="rgb(0, 34, 255)"/>
<rect x="762.50" y="378.48" width="26.70" height="9.62" fill="rgb(0, 10, 255)"/>
<rect x="788.70" y="378.48" width="26.70" height="9.62" fill="rgb(0, 0, 255)"/>
<rect x="814.90" y="378.48" width="26.70" height="9.62" fill="rgb(0, 0, 255)"/>
<rect x="841.10" y="378.48" width="26.70" height="9.62" fill="rgb(0, 20, 255)"/>
<rect x="867.30" y="378.48" width="26.70" height="9.62" fill="rgb(0, 60, 255)"/>
<rect x="893.50" y="378.48" width="26.70" height="9.62" fill="rgb(0, 80, 255)"/>
<rect x="919.70" y="378.48" width="26.70" height="9.62" fill="rgb(0, 150, 255)"/>
<rect x="945.90" y="378.48" width="26.70" height="9.62" fill="rgb(0, 150, 255)"/>
<rect x="972.10" y="378.48" width="26.70" height="9.62" fill="rgb(0, 140, 255)"/>
<rect x="998.30" y="378.48" width="26.70" height="9.62" fill="rgb(0, 110, 255)"/>
<rect x="2.70" y="387.60" width="26.70" height="9.62" fill="rgb(0, 40, 255)"/>
<rect x="28.90" y="387.60" width="26.70" height="9.62" fill="rgb(0, 25, 255)"/>
<rect x="55.10" y="387.60" width="26.70" height="9.62" fill="rgb(0, 30, 255)"/>
<rect x="81.30" y="387.60" width="26.70" height="9.62" fill="rgb(0, 10, 255)"/>
<rect x="107.50" y="387.60" width="26.70" height="9.62" fill="rgb(0, 10, 255)"/>
<rect x="133.70" y="387.60" width="26.70" height="9.62" fill="rgb(0, 5, 255)"/>
<rect x="159.90" y="387.60" width="26.70" height="9.62" fill="rgb(0, 5, 255)"/>
<rect x="186.10" y="387.60" width="26.70" height="9.62" fill="rgb(0, 70, 255)"/>
<rect x="212.30" y="387.60" width="26.70" height="9.62" fill="rgb(0, 90, 255)"/>
<rect x="238.50" y="387.60" width="26.70" height="9.62" fill="rgb(0, 100, 255)"/>
<rect x="264.70" y="387.60" width="26.70" height="9.62" fill="rgb(0, 100, 255)"/>
<rect x="290.90" y="387.60" width="26.70" height="9.62" fill="rgb(0, 130, 255)"/>
<rect x="317.10" y="387.60" width="26.70" height="9.62" fill="rgb(0, 150, 255)"/>
<rect x="343.30" y="387.60" width="26.70" height="9.62" fill="rgb(0, 120, 255)"/>
<rect x="369.50" y="387.60" width="26.70" height="9.62" fill="rgb(0, 50, 255)"/>
<rect x="395.70" y="387.60" width="26.70" height="9.62" fill="rgb(0, 30, 255)"/>
<rect x="421.90" y="387.60" width="26.70" height="9.62" fill="rgb(0, 100, 255)"/>
<rect x="448.10" y="387.60" width="26.70" height="9.62" fill="rgb(0, 230, 255)"/>
<rect x="474.30" y="387.60" width="26.70" height="9.62" fill="rgb(0, 160, 255)"/>
<rect x="500.50" y="387.60" width="26.70" height="9.62" fill="rgb(0, 160, 255)"/>
<rect x="526.70" y="387.60" width="26.70" height="9.62" fill="rgb(0, 158, 255)"/>
<rect x="552.90" y="387.60" width="26.70" height="9.62" fill="rgb(0, 150, 255)"/>
<rect x="579.10" y="387.60" width="26.70" height="9.62" fill="rgb(0, 68, 255)"/>
<rect x="605.30" y="387.60" width="26.70" height="9.62" fill="rgb(0, 25, 255)"/>
<rect x="631.50" y="387.60" width="26.70" height="9.62" fill="rgb(0, 40, 255)"/>
<rect x="657.70" y="387.60" width="26.70" height="9.62" fill="rgb(0, 50, 255)"/>
<rect x="683.90" y="387.60" width="26.70" height="9.62" fill="rgb(0, 68, 255)"/>
<rect x="710.10" y="387.60" width="26.70" height="9.62" fill="rgb(0, 68, 255)"/>
<rect x="736.30" y="387.60" width="26.70" height="9.62" fill="rgb(0, 48, 255)"/>
<rect x="762.50" y="387.60" width="26.70" height="9.62" fill="rgb(0, 4, 255)"/>
<rect x="788.70" y="387.60" width="26.70" height="9.62" fill="rgb(0, 0, 255)"/>
<rect x="814.90" y="387.60" width="26.70" height="9.62" fill="rgb(0, 0, 255)"/>
<rect x="841.10" y="387.60" width="26.70" height="9.62" fill="rgb(0, 5, 255)"/>
<rect x="867.30" y="387.60" width="26.70" height="9.62" fill="rgb(0, 5, 255)"/>
<rect x="893.50" y="387.60" width="26.70" height="9.62" fill="rgb(0, 0, 255)"/>
<rect x="919.70" y="387.60" width="26.70" height="9.62" fill="rgb(0, 90, 255)"/>
<rect x="945.90" y="387.60" width="26.70" height="9.62" fill="rgb(0, 140, 255)"/>
<rect x="972.10" y="387.60" width="26.70" height="9.62" fill="rgb(0, 140, 255)"/>
<rect x="998.30" y="387.60" width="26.70" height="9.62" fill="rgb(0, 190, 255)"/>
<rect x="2.70" y="396.72" width="26.70" height="9.62" fill="rgb(0, 80, 255)"/>
<rect x="28.90" y="396.72" width="26.70" height="9.62" fill="rgb(0, 40, 255)"/>
<rect x="55.10" y="396.72" width="26.70" height="9.62" fill="rgb(0, 40, 255)"/>
<rect x="81.30" y="396.72" width="26.70" height="9.62" fill="rgb(0, 30, 255)"/>
<rect x="107.50" y="396.72" width="26.70" height="9.62" fill="rgb(0, 20, 255)"/>
<rect x="133.70" y="396.72" width="26.70" height="9.62" fill="rgb(0, 0, 255)"/>
<rect x="159.90" y="396.72" width="26.70" height="9.62" fill="rgb(0, 0, 255)"/>
<rect x="186.10" y="396.72" width="26.70" height="9.62" fill="rgb(0, 10, 255)"/>
<rect x="212.30" y="396.72" width="26.70" height="9.62" fill="rgb(0, 50, 255)"/>
<rect x="238.50" y="396.72" width="26.70" height="9.62" fill="rgb(0, 120, 255)"/>
<rect x="264.70" y="396.72" width="26.70" height="9.62" fill="rgb(0, 110, 255)"/>
<rect x="290.90" y="396.72" width="26.70" height="9.62" fill="rgb(0, 140, 255)"/>
<rect x="317.10" y="396.72" width="26.70" height="9.62" fill="rgb(0, 150, 255)"/>
<rect x="343.30" y="396.72" width="26.70" height="9.62" fill="rgb(0, 190, 255)"/>
<rect x="369.50" y="396.72" width="26.70" height="9.62" fill="rgb(0, 235, 255)"/>
<rect x="395.70" y="396.72" width="26.70" height="9.62" fill="rgb(0, 220, 255)"/>
<rect x="421.90" y="396.72" width="26.70" height="9.62" fill="rgb(0, 180, 255)"/>
<rect x="448.10" y="396.72" width="26.70" height="9.62" fill="rgb(0, 160, 255)"/>
<rect x="474.30" y="396.72" width="26.70" height="9.62" fill="rgb(0, 150, 255)"/>
<rect x="500.50" y="396.72" width="26.70" height="9.62" fill="rgb(0, 230, 255)"/>
<rect x="526.70" y="396.72" width="26.70" height="9.62" fill="rgb(0, 225, 255)"/>
<rect x="552.90" y="396.72" width="26.70" height="9.62" fill="rgb(0, 200, 255)"/>
<rect x="579.10" y="396.72" width="26.70" height="9.62" fill="rgb(0, 200, 255)"/>
<rect x="605.30" y="396.72" width="26.70" height="9.62" fill="rgb(0, 170, 255)"/>
<rect x="631.50" y="396.72" width="26.70" height="9.62" fill="rgb(0, 120, 255)"/>
<rect x="657.70" y="396.72" width="26.70" height="9.62" fill="rgb(0, 40, 255)"/>
<rect x="683.90" y="396.72" width="26.70" height="9.62" fill="rgb(0, 70, 255)"/>
<rect x="710.10" y="396.72" width="26.70" height="9.62" fill="rgb(0, 110, 255)"/>
<rect x="736.30" y="396.72" width="26.70" height="9.62" fill="rgb(0, 110, 255)"/>
<rect x="762.50" y="396.72" width="26.70" height="9.62" fill="rgb(0, 80, 255)"/>
<rect x="788.70" y="396.72" width="26.70" height="9.62" fill="rgb(0, 40, 255)"/>
<rect x="814.90" y="396.72" width="26.70" height="9.62" fill="rgb(0, 0, 255)"/>
<rect x="841.10" y="396.72" width="26.70" height="9.62" fill="rgb(0, 20, 255)"/>
<rect x="867.30" y="396.72" width="26.70" height="9.62" fill="rgb(0, 30, 255)"/>
<rect x="893.50" y="396.72" width="26.70" height="9.62" fill="rgb(0, 90, 255)"/>
<rect x="919.70" y="396.72" width="26.70" height="9.62" fill="rgb(0, 130, 255)"/>
<rect x="945.90" y="396.72" width="26.70" height="9.62" fill="rgb(0, 220, 255)"/>
<rect x="972.10" y="396.72" width="26.70" height="9.62" fill="rgb(0, 250, 255)"/>
<rect x="998.30" y="396.72" width="26.70" height="9.62" fill="rgb(0, 240, 255)"/>
<rect x="2.70" y="405.84" width="26.70" height="9.62" fill="rgb(0, 190, 255)"/>
<rect x="28.90" y="405.84" width="26.70" height="9.62" fill="rgb(0, 170, 255)"/>
<rect x="55.10" y="405.84" width="26.70" height="9.62" fill="rgb(0, 130, 255)"/>
<rect x="81.30" y="405.84" width="26.70" height="9.62" fill="rgb(0, 60, 255)"/>
<rect x="107.50" y="405.84" width="26.70" height="9.62" fill="rgb(0, 40, 255)"/>
<rect x="133.70" y="405.84" width="26.70" height="9.62" fill="rgb(0, 0, 255)"/>
<rect x="159.90" y="405.84" width="26.70" height="9.62" fill="rgb(0, 0, 255)"/>
<rect x="186.10" y="405.84" width="26.70" height="9.62" fill="rgb(0, 10, 255)"/>
<rect x="212.30" y="405.84" width="26.70" height="9.62" fill="rgb(0, 10, 255)"/>
<rect x="238.50" y="405.84" width="26.70" height="9.62" fill="rgb(0, 30, 255)"/>
<rect x="264.70" y="405.84" width="26.70" height="9.62" fill="rgb(0, 50, 255)"/>
<rect x="290.90" y="405.84" width="26.70" height="9.62" fill="rgb(0, 40, 255)"/>
<rect x="317.10" y="405.84" width="26.70" height="9.62" fill="rgb(0, 90, 255)"/>
<rect x="343.30" y="405.84" width="26.70" height="9.62" fill="rgb(0, 110, 255)"/>
<rect x="369.50" y="405.84" width="26.70" height="9.62" fill="rgb(0, 140, 255)"/>
<rect x="395.70" y="405.84" width="26.70" height="9.62" fill="rgb(0, 190, 255)"/>
<rect x="421.90" y="405.84" width="26.70" height="9.62" fill="rgb(0, 215, 255)"/>
<rect x="448.10" y="405.84" width="26.70" height="9.62" fill="rgb(0, 200, 255)"/>
<rect x="474.30" y="405.84" width="26.70" height="9.62" fill="rgb(0, 210, 255)"/>
<rect x="500.50" y="405.84" width="26.70" height="9.62" fill="rgb(0, 180, 255)"/>
<rect x="526.70" y="405.84" width="26.70" height="9.62" fill="rgb(0, 200, 255)"/>
<rect x="552.90" y="405.84" width="26.70" height="9.62" fill="rgb(0, 232, 255)"/>
<rect x="579.10" y="405.84" width="26.70" height="9.62" fill="rgb(0, 244, 255)"/>
<rect x="605.30" y="405.84" width="26.70" height="9.62" fill="rgb(0, 244, 255)"/>
<rect x="631.50" y="405.84" width="26.70" height="9.62" fill="rgb(0, 226, 255)"/>
<rect x="657.70" y="405.84" width="26.70" height="9.62" fill="rgb(0, 205, 255)"/>
<rect x="683.90" y="405.84" width="26.70" height="9.62" fill="rgb(0, 185, 255)"/>
<rect x="710.10" y="405.84" width="26.70" height="9.62" fill="rgb(0, 90, 255)"/>
<rect x="736.30" y="405.84" width="26.70" height="9.62" fill="rgb(0, 110, 255)"/>
<rect x="762.50" y="405.84" width="26.70" height="9.62" fill="rgb(0, 170, 255)"/>
<rect x="788.70" y="405.84" width="26.70" height="9.62" fill="rgb(0, 120, 255)"/>
<rect x="814.90" y="405.84" width="26.70" height="9.62" fill="rgb(0, 100, 255)"/>
<rect x="841.10" y="405.84" width="26.70" height="9.62" fill="rgb(0, 30, 255)"/>
<rect x="867.30" y="405.84" width="26.70" height="9.62" fill="rgb(0, 40, 255)"/>
<rect x="893.50" y="405.84" width="26.70" height="9.62" fill="rgb(0, 40, 255)"/>
<rect x="919.70" y="405.84" width="26.70" height="9.62" fill="rgb(0, 90, 255)"/>
<rect x="945.90" y="405.84" width="26.70" height="9.62" fill="rgb(0, 90, 255)"/>
<rect x="972.10" y="405.84" width="26.70" height="9.62" fill="rgb(0, 120, 255)"/>
<rect x="998.30" y="405.84" width="26.70" height="9.62" fill="rgb(0, 130, 255)"/>
<rect x="2.70" y="414.96" width="26.70" height="9.62" fill="rgb(0, 210, 255)"/>
<rect x="28.90" y="414.96" width="26.70" height="9.62" fill="rgb(0, 190, 255)"/>
<rect x="55.10" y="414.96" width="26.70" height="9.62" fill="rgb(0, 90, 255)"/>
<rect x="81.30" y="414.96" width="26.70" height="9.62" fill="rgb(0, 70, 255)"/>
<rect x="107.50" y="414.96" width="26.70" height="9.62" fill="rgb(0, 30, 255)"/>
<rect x="133.70" y="414.96" width="26.70" height="9.62" fill="rgb(0, 5, 255)"/>
<rect x="159.90" y="414.96" width="26.70" height="9.62" fill="rgb(0, 5, 255)"/>
<rect x="186.10" y="414.96" width="26.70" height="9.62" fill="rgb(0, 20, 255)"/>
<rect x="212.30" y="414.96" width="26.70" height="9.62" fill="rgb(0, 10, 255)"/>
<rect x="238.50" y="414.96" width="26.70" height="9.62" fill="rgb(0, 60, 255)"/>
<rect x="264.70" y="414.96" width="26.70" height="9.62" fill="rgb(0, 60, 255)"/>
<rect x="290.90" y="414.96" width="26.70" height="9.62" fill="rgb(0, 100, 255)"/>
<rect x="317.10" y="414.96" width="26.70" height="9.62" fill="rgb(0, 120, 255)"/>
<rect x="343.30" y="414.96" width="26.70" height="9.62" fill="rgb(0, 150, 255)"/>
<rect x="369.50" y="414.96" width="26.70" height="9.62" fill="rgb(0, 170, 255)"/>
<rect x="395.70" y="414.96" width="26.70" height="9.62" fill="rgb(0, 230, 255)"/>
<rect x="421.90" y="414.96" width="26.70" height="9.62" fill="rgb(0, 225, 255)"/>
<rect x="448.10" y="414.96" width="26.70" height="9.62" fill="rgb(0, 225, 255)"/>
<rect x="474.30" y="414.96" width="26.70" height="9.62" fill="rgb(0, 225, 255)"/>
<rect x="500.50" y="414.96" width="26.70" height="9.62" fill="rgb(0, 170, 255)"/>
<rect x="526.70" y="414.96" width="26.70" height="9.62" fill="rgb(0, 250, 255)"/>
<rect x="552.90" y="414.96" width="26.70" height="9.62" fill="rgb(0, 250, 255)"/>
<rect x="579.10" y="414.96" width="26.70" height="9.62" fill="rgb(0, 215, 255)"/>
<rect x="605.30" y="414.96" width="26.70" height="9.62" fill="rgb(0, 200, 255)"/>
<rect x="631.50" y="414.96" width="26.70" height="9.62" fill="rgb(0, 200, 255)"/>
<rect x="657.70" y="414.96" width="26.70" height="9.62" fill="rgb(0, 110, 255)"/>
<rect x="683.90" y="414.96" width="26.70" height="9.62" fill="rgb(0, 90, 255)"/>
<rect x="710.10" y="414.96" width="26.70" height="9.62" fill="rgb(0, 160, 255)"/>
<rect x="736.30" y="414.96" width="26.70" height="9.62" fill="rgb(0, 130, 255)"/>
<rect x="762.50" y="414.96" width="26.70" height="9.62" fill="rgb(0, 90, 255)"/>
<rect x="788.70" y="414.96" width="26.70" height="9.62" fill="rgb(0, 50, 255)"/>
<rect x="814.90" y="414.96" width="26.70" height="9.62" fill="rgb(0, 10, 255)"/>
<rect x="841.10" y="414.96" width="26.70" height="9.62" fill="rgb(0, 30, 255)"/>
<rect x="867.30" y="414.96" width="26.70" height="9.62" fill="rgb(0, 60, 255)"/>
<rect x="893.50" y="414.96" width="26.70" height="9.62" fill="rgb(0, 120, 255)"/>
<rect x="919.70" y="414.96" width="26.70" height="9.62" fill="rgb(0, 120, 255)"/>
<rect x="945.90" y="414.96" width="26.70" height="9.62" fill="rgb(0, 140, 255)"/>
<rect x="972.10" y="414.96" width="26.70" height="9.62" fill="rgb(0, 180, 255)"/>
<rect x="998.30" y="414.96" width="26.70" height="9.62" fill="rgb(0, 190, 255)"/>
<rect x="2.70" y="424.08" width="26.70" height="9.62" fill="rgb(0, 150, 255)"/>
<rect x="28.90" y="424.08" width="26.70" height="9.62" fill="rgb(0, 100, 255)"/>
<rect x="55.10" y="424.08" width="26.70" height="9.62" fill="rgb(0, 90, 255)"/>
<rect x="81.30" y="424.08" width="26.70" height="9.62" fill="rgb(0, 90, 255)"/>
<rect x="107.50" y="424.08" width="26.70" height="9.62" fill="rgb(0, 40, 255)"/>
<rect x="133.70" y="424.08" width="26.70" height="9.62" fill="rgb(0, 20, 255)"/>
<rect x="159.90" y="424.08" width="26.70" height="9.62" fill="rgb(0, 15, 255)"/>
<rect x="186.10" y="424.08" width="26.70" height="9.62" fill="rgb(0, 30, 255)"/>
<rect x="212.30" y="424.08" width="26.70" height="9.62" fill="rgb(0, 60, 255)"/>
<rect x="238.50" y="424.08" width="26.70" height="9.62" fill="rgb(0, 60, 255)"/>
<rect x="264.70" y="424.08" width="26.70" height="9.62" fill="rgb(0, 20, 255)"/>
<rect x="290.90" y="424.08" width="26.70" height="9.62" fill="rgb(0, 60, 255)"/>
<rect x="317.10" y="424.08" width="26.70" height="9.62" fill="rgb(0, 100, 255)"/>
<rect x="343.30" y="424.08" width="26.70" height="9.62" fill="rgb(0, 110, 255)"/>
<rect x="369.50" y="424.08" width="26.70" height="9.62" fill="rgb(0, 170, 255)"/>
<rect x="395.70" y="424.08" width="26.70" height="9.62" fill="rgb(0, 200, 255)"/>
<rect x="421.90" y="424.08" width="26.70" height="9.62" fill="rgb(0, 235, 255)"/>
<rect x="448.10" y="424.08" width="26.70" height="9.62" fill="rgb(0, 240, 255)"/>
<rect x="474.30" y="424.08" width="26.70" height="9.62" fill="rgb(0, 235, 255)"/>
<rect x="500.50" y="424.08" width="26.70" height="9.62" fill="rgb(0, 225, 255)"/>
<rect x="526.70" y="424.08" width="26.70" height="9.62" fill="rgb(0, 170, 255)"/>
<rect x="552.90" y="424.08" width="26.70" height="9.62" fill="rgb(0, 250, 255)"/>
<rect x="579.10" y="424.08" width="26.70" height="9.62" fill="rgb(0, 255, 255)"/>
<rect x="605.30" y="424.08" width="26.70" height="9.62" fill="rgb(0, 250, 255)"/>
<rect x="631.50" y="424.08" width="26.70" height="9.62" fill="rgb(0, 240, 255)"/>
<rect x="657.70" y="424.08" width="26.70" height="9.62" fill="rgb(0, 240, 255)"/>
<rect x="683.90" y="424.08" width="26.70" height="9.62" fill="rgb(0, 240, 255)"/>
<rect x="710.10" y="424.08" width="26.70" height="9.62" fill="rgb(0, 170, 255)"/>
<rect x="736.30" y="424.08" width="26.70" height="9.62" fill="rgb(0, 120, 255)"/>
<rect x="762.50" y="424.08" width="26.70" height="9.62" fill="rgb(0, 120, 255)"/>
<rect x="788.70" y="424.08" width="26.70" height="9.62" fill="rgb(0, 150, 255)"/>
<rect x="814.90" y="424.08" width="26.70" height="9.62" fill="rgb(0, 110, 255)"/>
<rect x="841.10" y="424.08" width="26.70" height="9.62" fill="rgb(0, 80, 255)"/>
<rect x="867.30" y="424.08" width="26.70" height="9.62" fill="rgb(0, 100, 255)"/>
<rect x="893.50" y="424.08" width="26.70" height="9.62" fill="rgb(0, 110, 255)"/>
<rect x="919.70" y="424.08" width="26.70" height="9.62" fill="rgb(0, 130, 255)"/>
<rect x="945.90" y="424.08" width="26.70" height="9.62" fill="rgb(0, 170, 255)"/>
<rect x="972.10" y="424.08" width="26.70" height="9.62" fill="rgb(0, 180, 255)"/>
<rect x="998.30" y="424.08" width="26.70" height="9.62" fill="rgb(0, 200, 255)"/>
</g>
<rect x="0" y="217.3" width="1024" height="0.9" fill="#f0f0f0"/><rect x="0" y="218.1" width="1024" height="1" fill="#e2e2e2"/>
<rect x="0" y="219.4" width="1024" height="2.8" fill="#f5a010"/>
<rect x="0" y="219.4" width="2.7" height="216" fill="#f5a010"/>
<rect x="0" y="433.2" width="1024" height="2" fill="#f5a010"/>
<rect x="2.7" y="222.2" width="1022" height="17" fill="#ffffff"/><rect x="2.7" y="222.1" width="1022" height="0.5" fill="#c0b4a4"/>
<rect x="2.7" y="238.6" width="1022" height="1.2" fill="#8a8a8a"/>
<defs><linearGradient id="cb" gradientUnits="userSpaceOnUse" x1="3" y1="0" x2="1022" y2="0">
<stop offset="0.0000" stop-color="rgb(255, 0, 0)"/>
<stop offset="0.1423" stop-color="rgb(255, 128, 0)"/>
<stop offset="0.2483" stop-color="rgb(255, 200, 0)"/>
<stop offset="0.3219" stop-color="rgb(255, 255, 0)"/>
<stop offset="0.4298" stop-color="rgb(128, 255, 0)"/>
<stop offset="0.4946" stop-color="rgb(0, 255, 0)"/>
<stop offset="0.5731" stop-color="rgb(0, 255, 150)"/>
<stop offset="0.6467" stop-color="rgb(0, 255, 255)"/>
<stop offset="0.7154" stop-color="rgb(0, 200, 255)"/>
<stop offset="0.7507" stop-color="rgb(0, 160, 255)"/>
<stop offset="0.8587" stop-color="rgb(0, 60, 255)"/>
<stop offset="1.0000" stop-color="rgb(0, 0, 255)"/>
</linearGradient></defs>
<rect x="2.7" y="239.8" width="1022" height="11" fill="url(#cb)"/>
<rect x="4.3" y="243.4" width="15.8" height="6.8" fill="#f2f2f6" fill-opacity="0.93"/>
<text x="5.1" y="249.4" font-size="6.9" fill="#222" textLength="14.2" lengthAdjust="spacingAndGlyphs">70.00</text>
<rect x="148.2" y="239" width="1" height="4" fill="#333"/>
<rect x="140.8" y="243.4" width="15.8" height="6.8" fill="#f2f2f6" fill-opacity="0.93"/>
<text x="141.7" y="249.4" font-size="6.9" fill="#222" textLength="14.2" lengthAdjust="spacingAndGlyphs">75.00</text>
<rect x="294.0" y="239" width="1" height="4" fill="#333"/>
<rect x="286.6" y="243.4" width="15.8" height="6.8" fill="#f2f2f6" fill-opacity="0.93"/>
<text x="287.4" y="249.4" font-size="6.9" fill="#222" textLength="14.2" lengthAdjust="spacingAndGlyphs">80.00</text>
<rect x="439.8" y="239" width="1" height="4" fill="#333"/>
<rect x="432.4" y="243.4" width="15.8" height="6.8" fill="#f2f2f6" fill-opacity="0.93"/>
<text x="433.2" y="249.4" font-size="6.9" fill="#222" textLength="14.2" lengthAdjust="spacingAndGlyphs">85.00</text>
<rect x="585.5" y="239" width="1" height="4" fill="#333"/>
<rect x="578.1" y="243.4" width="15.8" height="6.8" fill="#f2f2f6" fill-opacity="0.93"/>
<text x="578.9" y="249.4" font-size="6.9" fill="#222" textLength="14.2" lengthAdjust="spacingAndGlyphs">90.00</text>
<rect x="731.2" y="239" width="1" height="4" fill="#333"/>
<rect x="723.9" y="243.4" width="15.8" height="6.8" fill="#f2f2f6" fill-opacity="0.93"/>
<text x="724.6" y="249.4" font-size="6.9" fill="#222" textLength="14.2" lengthAdjust="spacingAndGlyphs">95.00</text>
<rect x="877.0" y="239" width="1" height="4" fill="#333"/>
<rect x="868.4" y="243.4" width="18.2" height="6.8" fill="#f2f2f6" fill-opacity="0.93"/>
<text x="869.2" y="249.4" font-size="6.9" fill="#222" textLength="16.6" lengthAdjust="spacingAndGlyphs">100.00</text>
<rect x="1004.6" y="243.4" width="18.2" height="6.8" fill="#f2f2f6" fill-opacity="0.93"/>
<text x="1005.4" y="249.4" font-size="6.9" fill="#222" textLength="16.6" lengthAdjust="spacingAndGlyphs">105.00</text>
<rect x="3.6" y="223.1" width="48.3" height="15" fill="#fff" stroke="#303030" stroke-width="1.4"/>
<text x="27.9" y="233.3" font-size="8.3" text-anchor="middle" fill="#707070" textLength="17.2" lengthAdjust="spacingAndGlyphs">WT%</text>
<path d="M50.2 232.9 L50.2 236.4 L46.7 236.4 Z" fill="#333"/>
<rect x="955.1" y="223.1" width="51.9" height="15" fill="#fff" stroke="#303030" stroke-width="1.4"/>
<rect x="964" y="226.8" width="1" height="9.8" fill="#777"/>
<path d="M965.6 226.6 L971.7 230 L965.6 233.4 Z" fill="#3fae3f"/>
<circle cx="970" cy="235.1" r="2" fill="#6aa858"/><circle cx="970" cy="235.1" r="0.9" fill="#3a7a3a"/>
<text x="974.1" y="233.6" font-size="8.2" fill="#f04848" textLength="16.6" lengthAdjust="spacingAndGlyphs">COR</text>
<path d="M1005.6 233.2 L1005.6 236 L1002.8 236 Z" fill="#e02020"/>
<rect x="1008.5" y="223" width="15.5" height="15.5" fill="#9a9a9a" stroke="#666" stroke-width="1"/>
<rect x="1012.5" y="226.20" width="8.8" height="2.3" fill="#f0641e"/>
<rect x="1012.5" y="228.36" width="8.8" height="2.3" fill="#f79a1e"/>
<rect x="1012.5" y="230.52" width="8.8" height="2.3" fill="#f5e01e"/>
<rect x="1012.5" y="232.68" width="8.8" height="2.3" fill="#6cc04a"/>
<rect x="1012.5" y="234.84" width="8.8" height="2.3" fill="#3aa8d8"/>
<rect x="2.7" y="327.9" width="576.5" height="1.2" fill="#931428"/>
<rect x="578.7" y="317.6" width="1.3" height="20" fill="#a01830"/>
<rect x="250.9" y="277.2" width="1.4" height="101.4" fill="#9b1c1c"/>
<path d="M240.9 282 V277.3 H262 V282 M240.9 373.6 V378.5 H262 V373.6" fill="none" stroke="#9b1c1c" stroke-width="1.4"/>
<rect x="212.3" y="387" width="183.3" height="46.5" fill="none" stroke="#2a8a7a" stroke-width="1"/>
<rect x="0" y="0" width="1.2" height="219" fill="#8a8a8a"/>
<rect x="292.0" y="0" width="1.3" height="217" fill="#e4e4e4"/>
<rect x="583.0" y="0" width="1.3" height="217" fill="#e4e4e4"/>
<rect x="825.5" y="0" width="1.3" height="217" fill="#e4e4e4"/>
<path d="M59.4 168.47H282.1M59.4 160.84H282.1M59.4 155.43H282.1M59.4 151.23H282.1M59.4 147.81H282.1M59.4 144.91H282.1M59.4 142.40H282.1M59.4 140.18H282.1M59.4 125.17H282.1M59.4 117.54H282.1M59.4 112.13H282.1M59.4 107.93H282.1M59.4 104.51H282.1M59.4 101.61H282.1M59.4 99.10H282.1M59.4 96.88H282.1M59.4 81.87H282.1M59.4 74.24H282.1M59.4 68.83H282.1M59.4 64.63H282.1M59.4 61.21H282.1M59.4 58.31H282.1M59.4 55.80H282.1M59.4 53.58H282.1M59.4 38.57H282.1M59.4 30.94H282.1M59.4 25.53H282.1M59.4 21.33H282.1M59.4 17.91H282.1M59.4 15.01H282.1M59.4 12.50H282.1M59.4 10.28H282.1" stroke="#e9e9e9" stroke-width="0.9" fill="none"/>
<path d="M59.4 51.60H282.1M59.4 94.90H282.1M59.4 138.20H282.1" stroke="#c4c4c4" stroke-width="1" fill="none"/>
<path d="M91.80 8.3V180.9M137.05 8.3V180.9M182.30 8.3V180.9M227.55 8.3V180.9M272.80 8.3V180.9" stroke="#b6b6b6" stroke-width="1" fill="none"/>
<path d="M59.4 15.2 L60.3 18.9 L61.4 22.1 L62.7 25.4 L64.1 28.3 L65.8 31.3 L67.6 33.8 L70.0 37.1 L72.4 40.0 L75.0 42.7 L77.9 45.2 L81.3 48.2 L84.8 50.8 L88.2 53.1 L91.7 55.2 L97.2 58.6 L104.0 62.6 L113.8 68.3 L126.5 74.8 L144.4 82.9 L163.0 90.3 L182.2 97.3 L205.0 106.0 L227.5 114.6 L250.0 123.0 L272.7 131.0 L282.0 134.6" stroke="#f48484" stroke-width="1.1" fill="none"/>
<path d="M59.4 11.6 L60.3 15.2 L61.4 18.6 L62.7 22.0 L64.1 24.8 L65.8 27.8 L67.6 30.3 L70.0 33.6 L72.4 36.6 L75.0 39.4 L77.9 42.1 L81.3 45.0 L84.8 47.6 L88.2 49.9 L91.7 52.1 L95.5 54.3 L99.3 56.3 L106.0 60.3 L113.8 65.0 L126.5 71.5 L144.4 80.1 L163.0 89.3 L182.2 98.0 L205.0 107.5 L227.5 117.6 L245.0 125.0 L258.0 131.2 L266.0 135.5 L272.7 138.6 L282.0 142.2" stroke="#444" stroke-width="1.1" fill="none"/>
<path d="M59.4 8.3H282.1" stroke="#b0b0b0" stroke-width="1" fill="none"/><path d="M282.1 8.3V180.9" stroke="#666" stroke-width="1.2" fill="none"/>
<path d="M59.4 8.3V181.1H282.1" stroke="#747474" stroke-width="1.6" fill="none"/>
<rect x="143.69" y="8.3" width="1.3" height="172.6" fill="#b44448"/>
<circle cx="144.3" cy="80.2" r="3.1" fill="none" stroke="#444" stroke-width="0.9"/>
<circle cx="144.3" cy="83" r="2.6" fill="none" stroke="#f58a8a" stroke-width="0.8"/>
<text x="121" y="90.1" font-size="9.5" fill="#5a5a5a" textLength="18">0.22</text>
<text x="150" y="77.6" font-size="9.5" fill="#f58a8a" textLength="18">0.19</text>
<text x="135.6" y="189.7" font-size="9.5" fill="#c03040" stroke="#c03040" stroke-width="0.25" textLength="17.2">10.8</text>
<rect x="51" y="7.70" width="8.4" height="1.2" fill="#555"/>
<text x="49.2" y="11.6" font-size="9.3" text-anchor="end" fill="#1c1c1c" stroke="#1c1c1c" stroke-width="0.12">10</text>
<rect x="51" y="51.00" width="8.4" height="1.2" fill="#555"/>
<text x="49.2" y="54.9" font-size="9.3" text-anchor="end" fill="#1c1c1c" stroke="#1c1c1c" stroke-width="0.12">1</text>
<rect x="51" y="94.30" width="8.4" height="1.2" fill="#555"/>
<text x="49.2" y="98.2" font-size="9.3" text-anchor="end" fill="#1c1c1c" stroke="#1c1c1c" stroke-width="0.12">0.1</text>
<rect x="51" y="137.60" width="8.4" height="1.2" fill="#555"/>
<text x="49.2" y="141.5" font-size="9.3" text-anchor="end" fill="#1c1c1c" stroke="#1c1c1c" stroke-width="0.12">0.01</text>
<rect x="51" y="180.90" width="8.4" height="1.2" fill="#555"/>
<text x="49.2" y="184.8" font-size="9.3" text-anchor="end" fill="#1c1c1c" stroke="#1c1c1c" stroke-width="0.12">0.001</text>
<rect x="91.20" y="180.9" width="1.2" height="5" fill="#5a5a5a"/>
<text x="91.8" y="194.8" font-size="9.3" text-anchor="middle" fill="#1c1c1c" stroke="#1c1c1c" stroke-width="0.12">5</text>
<rect x="136.45" y="180.9" width="1.2" height="5" fill="#5a5a5a"/>
<text x="137.1" y="194.8" font-size="9.3" text-anchor="middle" fill="#1c1c1c" stroke="#1c1c1c" stroke-width="0.12">10</text>
<rect x="181.70" y="180.9" width="1.2" height="5" fill="#5a5a5a"/>
<text x="182.3" y="194.8" font-size="9.3" text-anchor="middle" fill="#1c1c1c" stroke="#1c1c1c" stroke-width="0.12">15</text>
<rect x="226.95" y="180.9" width="1.2" height="5" fill="#5a5a5a"/>
<text x="227.6" y="194.8" font-size="9.3" text-anchor="middle" fill="#1c1c1c" stroke="#1c1c1c" stroke-width="0.12">20</text>
<rect x="272.20" y="180.9" width="1.2" height="5" fill="#5a5a5a"/>
<text x="272.8" y="194.8" font-size="9.3" text-anchor="middle" fill="#1c1c1c" stroke="#1c1c1c" stroke-width="0.12">25</text>
<text x="145.6" y="209.5" font-size="8.7" text-anchor="middle" fill="#222" textLength="37.6">Time (ms)</text>
<text transform="translate(20.3,108.2) rotate(-90)" font-size="8.7" text-anchor="middle" fill="#2a2a2a" textLength="42">Voltage (V)</text>
<rect x="239.2" y="12" width="39.2" height="16.2" fill="#fff" stroke="#333" stroke-width="1.1"/>
<text x="258.6" y="22.9" font-size="9.4" text-anchor="middle" fill="#1c1c1c" stroke="#1c1c1c" stroke-width="0.12" textLength="31">Driver 1</text>
<path d="M336 154.05H573.4M336 127.60H573.4M336 101.15H573.4M336 74.70H573.4M336 48.25H573.4M336 21.80H573.4" stroke="#c4c4c4" stroke-width="1.05" fill="none"/>
<path d="M336 8.3H573.4" stroke="#606060" stroke-width="1.2" fill="none"/>
<path d="M395.4 8.3V180.9" stroke="#333" stroke-width="1" stroke-dasharray="1.5 1" fill="none"/>
<text x="393.9" y="16.9" font-size="9.5" text-anchor="end" fill="#222" textLength="21.4">1CDT</text>
<path d="M454.7 8.3V180.9" stroke="#333" stroke-width="1" stroke-dasharray="1.5 1" fill="none"/>
<text x="453.2" y="16.9" font-size="9.5" text-anchor="end" fill="#222" textLength="21.4">2CDT</text>
<path d="M514.0 8.3V180.9" stroke="#333" stroke-width="1" stroke-dasharray="1.5 1" fill="none"/>
<text x="512.5" y="16.9" font-size="9.5" text-anchor="end" fill="#222" textLength="21.4">3CDT</text>
<path d="M573.2 8.3V180.9" stroke="#333" stroke-width="1" stroke-dasharray="1.5 1" fill="none"/>
<text x="571.7" y="16.9" font-size="9.5" text-anchor="end" fill="#222" textLength="21.4">4CDT</text>
<path d="M351.0 157.0 L361.0 140.0 L371.0 123.5 L381.0 107.0 L388.0 96.0 L395.2 87.5 L403.0 79.0 L412.0 70.5 L422.0 62.5 L432.0 56.0 L442.0 50.5 L454.5 45.5 L468.0 41.8 L482.0 38.8 L496.0 37.0 L513.7 35.9 L528.0 34.0 L545.0 31.8 L562.0 30.1" stroke="#e86060" stroke-width="1.1" fill="none"/>
<path d="M351.0 157.0 L361.0 139.5 L371.0 123.0 L381.0 107.3 L388.0 98.0 L395.2 91.0 L403.0 85.0 L412.0 79.3 L422.0 74.5 L432.0 71.0 L442.0 68.6 L454.5 66.5 L468.0 63.5 L480.0 60.7 L496.0 59.3 L513.7 58.6 L524.0 58.4 L532.0 57.0 L538.7 56.1 L545.0 57.2 L550.0 59.3 L554.0 60.6 L558.0 60.8 L562.0 60.5" stroke="#444" stroke-width="1.1" fill="none"/>
<path d="M336.2 180.6 L441.2 8.3" stroke="#a07474" stroke-width="1.5" stroke-dasharray="3.5 1.4" fill="none"/>
<path d="M336 8.3V181.1H573.4" stroke="#747474" stroke-width="1.6" fill="none"/>
<rect x="331.5" y="179.90" width="4.5" height="1.2" fill="#555"/>
<text x="329.8" y="183.8" font-size="9.3" text-anchor="end" fill="#1c1c1c" stroke="#1c1c1c" stroke-width="0.12">0</text>
<rect x="331.5" y="153.45" width="4.5" height="1.2" fill="#555"/>
<text x="329.8" y="157.4" font-size="9.3" text-anchor="end" fill="#1c1c1c" stroke="#1c1c1c" stroke-width="0.12">1</text>
<rect x="331.5" y="127.00" width="4.5" height="1.2" fill="#555"/>
<text x="329.8" y="130.9" font-size="9.3" text-anchor="end" fill="#1c1c1c" stroke="#1c1c1c" stroke-width="0.12">2</text>
<rect x="331.5" y="100.55" width="4.5" height="1.2" fill="#555"/>
<text x="329.8" y="104.5" font-size="9.3" text-anchor="end" fill="#1c1c1c" stroke="#1c1c1c" stroke-width="0.12">3</text>
<rect x="331.5" y="74.10" width="4.5" height="1.2" fill="#555"/>
<text x="329.8" y="78.0" font-size="9.3" text-anchor="end" fill="#1c1c1c" stroke="#1c1c1c" stroke-width="0.12">4</text>
<rect x="331.5" y="47.65" width="4.5" height="1.2" fill="#555"/>
<text x="329.8" y="51.5" font-size="9.3" text-anchor="end" fill="#1c1c1c" stroke="#1c1c1c" stroke-width="0.12">5</text>
<rect x="331.5" y="21.20" width="4.5" height="1.2" fill="#555"/>
<text x="329.8" y="25.1" font-size="9.3" text-anchor="end" fill="#1c1c1c" stroke="#1c1c1c" stroke-width="0.12">6</text>
<rect x="335.40" y="180.9" width="1.2" height="5" fill="#5a5a5a"/>
<text x="336.0" y="194.8" font-size="9.3" text-anchor="middle" fill="#1c1c1c" stroke="#1c1c1c" stroke-width="0.12">0</text>
<rect x="386.00" y="180.9" width="1.2" height="5" fill="#5a5a5a"/>
<text x="386.6" y="194.8" font-size="9.3" text-anchor="middle" fill="#1c1c1c" stroke="#1c1c1c" stroke-width="0.12">5</text>
<rect x="436.60" y="180.9" width="1.2" height="5" fill="#5a5a5a"/>
<text x="437.2" y="194.8" font-size="9.3" text-anchor="middle" fill="#1c1c1c" stroke="#1c1c1c" stroke-width="0.12">10</text>
<rect x="487.20" y="180.9" width="1.2" height="5" fill="#5a5a5a"/>
<text x="487.8" y="194.8" font-size="9.3" text-anchor="middle" fill="#1c1c1c" stroke="#1c1c1c" stroke-width="0.12">15</text>
<rect x="537.80" y="180.9" width="1.2" height="5" fill="#5a5a5a"/>
<text x="538.4" y="194.8" font-size="9.3" text-anchor="middle" fill="#1c1c1c" stroke="#1c1c1c" stroke-width="0.12">20</text>
<text x="454.5" y="209.5" font-size="8.7" text-anchor="middle" fill="#222" textLength="37.6">Time (ms)</text>
<text transform="translate(315.2,95.4) rotate(-90)" font-size="9" text-anchor="middle" fill="#3c5068" textLength="34">Tau (ms)</text>
<rect x="463.8" y="148.9" width="106.3" height="29.2" fill="#fff" stroke="#333" stroke-width="1.3"/>
<text x="468.4" y="162" font-size="9" fill="#222" textLength="83.5">Calib. Delay : ~0 ms</text>
<text x="468.4" y="171" font-size="9" fill="#222" textLength="84.5">Meas. Delay : ~0 ms</text>
<rect x="298.3" y="4.3" width="17.5" height="17.2" rx="1.5" fill="#dcdcdc" stroke="#a0a0a0" stroke-width="1.2"/>
<circle cx="307.2" cy="12.9" r="5.1" fill="#f28a22"/>
<text x="307.2" y="16" font-size="9" font-weight="bold" text-anchor="middle" fill="#f6f6f6">?</text>
<rect x="590.1" y="4.3" width="17.5" height="17.2" rx="1.5" fill="#dcdcdc" stroke="#a0a0a0" stroke-width="1.2"/>
<circle cx="599.0" cy="12.9" r="5.1" fill="#f28a22"/>
<text x="599.0" y="16" font-size="9" font-weight="bold" text-anchor="middle" fill="#f6f6f6">?</text>
<defs><linearGradient id="wg" x1="0" y1="0" x2="1" y2="0"><stop offset="0" stop-color="#f2f2f2"/><stop offset="1" stop-color="#e6e6e6"/></linearGradient></defs>
<defs><linearGradient id="wg2" x1="0" y1="0" x2="0" y2="1"><stop offset="0" stop-color="#e4e4e4"/><stop offset="1" stop-color="#f4f4f4"/></linearGradient></defs>
<path d="M669.6 78.2 L721 180.9 L772.3 180.9 Z" fill="url(#wg2)"/>
<path d="M669.6 78.2 L772.3 180.9 L816.2 180.9 L816.2 78.2 Z" fill="#d9d9d9"/>
<path d="M627.3 18.20H816.2M627.3 48.20H816.2M627.3 108.20H816.2M627.3 168.20H816.2" stroke="#c8c8c8" stroke-width="1" fill="none"/>
<path d="M729.60 8.3V180.9M789.60 8.3V180.9" stroke="#a8a8a8" stroke-width="1" fill="none"/>
<path d="M627.3 78.2H669.6 M669.6 8.3V180.9" stroke="#ccd0ff" stroke-width="1.1" fill="none"/>
<path d="M669.6 78.2H816.2" stroke="#8a8a9a" stroke-width="1.2" fill="none"/>
<path d="M669.6 78.2 L721 180.9 M669.6 78.2 L772.3 180.9" stroke="#777" stroke-width="1" fill="none"/>
<path d="M627.3 138.2H816.2" stroke="#444" stroke-width="1.7" stroke-dasharray="4.4 1.7" fill="none"/>
<path d="M627.3 8.3H816.2" stroke="#606060" stroke-width="1.2" fill="none"/><path d="M816.2 8.3V180.9" stroke="#666" stroke-width="1.4" fill="none"/>
<path d="M627.3 8.3V181.1H816.2" stroke="#747474" stroke-width="1.6" fill="none"/>
<path d="M659.3 65.0 L666.2 64.3 L680.2 65.6 L705.9 70.1 L710.1 70.6 L714.3 74.3 L708.0 79.9 L708.3 84.3 L733.5 100.9 L735.8 109.2 L734.4 112.3 L769.4 121.6 L781.1 123.0 L800.4 124.6" stroke="#333" stroke-width="0.9" fill="none"/>
<path d="M669.4 89.6 L683.9 92.8 L668.6 97.1 L704.9 100.1 L693.9 107.8 L702.7 111.2 L709.3 113.0 L769.4 121.6" stroke="#333" stroke-width="0.9" fill="none"/>
<path d="M665.4 92.3 L639.6 83.5 L657.7 97.9 L702.4 111.3" stroke="#333" stroke-width="0.9" fill="none"/>
<path d="M665.4 92.3 L694.3 107.3" stroke="#333" stroke-width="0.9" fill="none"/>
<path d="M668.6 97.1 L680.0 98.5 L702.4 111.3" stroke="#333" stroke-width="0.9" fill="none"/>
<circle cx="714.3" cy="74.3" r="1" fill="#222"/>
<circle cx="668.6" cy="97.1" r="1" fill="#222"/>
<circle cx="705.9" cy="70.1" r="1" fill="#222"/>
<circle cx="666.2" cy="64.3" r="1" fill="#222"/>
<circle cx="710.1" cy="70.6" r="1" fill="#222"/>
<circle cx="733.5" cy="100.9" r="1" fill="#222"/>
<circle cx="665.4" cy="92.3" r="1" fill="#222"/>
<circle cx="702.4" cy="111.3" r="1" fill="#222"/>
<circle cx="781.1" cy="123" r="1" fill="#222"/>
<circle cx="693.9" cy="107.8" r="1" fill="#222"/>
<circle cx="709.3" cy="113" r="1" fill="#222"/>
<circle cx="680.2" cy="65.6" r="1" fill="#222"/>
<circle cx="734.4" cy="112.3" r="1" fill="#222"/>
<circle cx="800.4" cy="124.6" r="1" fill="#222"/>
<circle cx="708.3" cy="84.3" r="1" fill="#222"/>
<circle cx="735.8" cy="109.2" r="1" fill="#222"/>
<circle cx="669.4" cy="89.6" r="1" fill="#222"/>
<circle cx="639.6" cy="83.5" r="1" fill="#222"/>
<circle cx="769.4" cy="121.6" r="1" fill="#222"/>
<circle cx="657.7" cy="97.9" r="1" fill="#222"/>
<circle cx="702.7" cy="111.2" r="1" fill="#222"/>
<circle cx="704.9" cy="100.1" r="1" fill="#222"/>
<circle cx="683.9" cy="92.8" r="1" fill="#222"/>
<circle cx="708.0" cy="79.9" r="1" fill="#222"/>
<circle cx="659.3" cy="65.0" r="1" fill="#222"/>
<path d="M669.6 78.2 L800 123.7" stroke="#6a6aff" stroke-width="1.4" fill="none"/>
<path d="M802.5 124.6 L796.3 126.6 L798.4 120.3 Z" fill="#6a6aff"/>
<circle cx="803.8" cy="125" r="2.8" fill="none" stroke="#f02020" stroke-width="1.1"/><circle cx="803.3" cy="124.9" r="0.9" fill="#6a6aff"/>
<rect x="622.8" y="17.60" width="4.5" height="1.2" fill="#555"/>
<text x="621" y="21.5" font-size="9.3" text-anchor="end" fill="#1c1c1c" stroke="#1c1c1c" stroke-width="0.12">10</text>
<rect x="622.8" y="47.60" width="4.5" height="1.2" fill="#555"/>
<text x="621" y="51.5" font-size="9.3" text-anchor="end" fill="#1c1c1c" stroke="#1c1c1c" stroke-width="0.12">5</text>
<rect x="622.8" y="77.60" width="4.5" height="1.2" fill="#555"/>
<text x="621" y="81.5" font-size="9.3" text-anchor="end" fill="#1c1c1c" stroke="#1c1c1c" stroke-width="0.12">0</text>
<rect x="622.8" y="107.60" width="4.5" height="1.2" fill="#555"/>
<text x="621" y="111.5" font-size="9.3" text-anchor="end" fill="#1c1c1c" stroke="#1c1c1c" stroke-width="0.12">-5</text>
<rect x="622.8" y="137.60" width="4.5" height="1.2" fill="#555"/>
<text x="621" y="141.5" font-size="9.3" text-anchor="end" fill="#1c1c1c" stroke="#1c1c1c" stroke-width="0.12">-10</text>
<rect x="622.8" y="167.60" width="4.5" height="1.2" fill="#555"/>
<text x="621" y="171.5" font-size="9.3" text-anchor="end" fill="#1c1c1c" stroke="#1c1c1c" stroke-width="0.12">-15</text>
<rect x="669.00" y="180.9" width="1.2" height="5" fill="#5a5a5a"/>
<text x="669.6" y="194.8" font-size="9.3" text-anchor="middle" fill="#1c1c1c" stroke="#1c1c1c" stroke-width="0.12">0</text>
<rect x="729.00" y="180.9" width="1.2" height="5" fill="#5a5a5a"/>
<text x="729.6" y="194.8" font-size="9.3" text-anchor="middle" fill="#1c1c1c" stroke="#1c1c1c" stroke-width="0.12">1</text>
<rect x="789.00" y="180.9" width="1.2" height="5" fill="#5a5a5a"/>
<text x="789.6" y="194.8" font-size="9.3" text-anchor="middle" fill="#1c1c1c" stroke="#1c1c1c" stroke-width="0.12">2</text>
<text x="721.7" y="209.3" font-size="8.8" text-anchor="middle" fill="#222" textLength="101">Normalized Amplitude (dB)</text>
<text transform="translate(606.3,94) rotate(-90)" font-size="8.7" text-anchor="middle" fill="#2a2a2a" textLength="80">Δ Wall Thickness (%)</text>
<rect x="759.6" y="12" width="53" height="16.2" fill="#dcdcdc" stroke="#555" stroke-width="1.2"/>
<text x="785.8" y="23.2" font-size="8.6" font-weight="bold" text-anchor="middle" fill="#303030" textLength="44">Angle: 70.7°</text>
<rect x="590.9" y="186.6" width="24.6" height="24.8" rx="1.5" fill="#dcdcdc" stroke="#9a9a9a" stroke-width="1.1"/>
<path d="M594.2 190.8 V205.3" stroke="#6a6e72" stroke-width="1.9" fill="none"/><path d="M594.2 188.9 L596.1 191.4 H592.3 Z" fill="#6a6e72"/>
<path d="M593.1 208.1 H611.5" stroke="#f28a22" stroke-width="2" fill="none"/><path d="M614 208.1 L610.3 205.9 V210.3 Z" fill="#f28a22"/>
<text x="606.9" y="201.7" font-size="16.5" font-weight="bold" text-anchor="middle" fill="#f28a22">X</text>
<path d="M830.4 2H1024" stroke="#999" stroke-width="1.2" fill="none"/>
<path d="M830.4 2V213.2 M830.4 213.2H1024" stroke="#333" stroke-width="1.15" fill="none"/>
<path d="M927.4 2V213.2" stroke="#000" stroke-width="1.5" fill="none"/><path d="M830.4 72.2H1024 M830.4 142.9H1024" stroke="#000" stroke-width="1.3" fill="none"/>
<text x="878.3" y="13.7" font-size="9.4" text-anchor="middle" fill="#222">Center Circular</text>
<text x="878.3" y="25.2" font-size="9.4" text-anchor="middle" fill="#222">(smpl)</text>
<text x="877.6999999999999" y="48" font-size="22.7" text-anchor="middle" fill="#111">12</text>
<text x="975.3" y="13.7" font-size="9.4" text-anchor="middle" fill="#222">Center Axial (smpl)</text>
<text x="974.6999999999999" y="48" font-size="22.7" text-anchor="middle" fill="#111">15</text>
<text x="878.3" y="84.4" font-size="9.4" text-anchor="middle" fill="#222">Warnings</text>
<text x="877.6999999999999" y="119" font-size="22.7" text-anchor="middle" fill="#111">-</text>
<text x="975.3" y="84.4" font-size="9.4" text-anchor="middle" fill="#222">Wall Thickness</text>
<text x="975.3" y="95.9" font-size="9.4" text-anchor="middle" fill="#222">(mm)</text>
<text x="974.6999999999999" y="119.3" font-size="22.7" text-anchor="middle" fill="#111">7.3</text>
<text x="878.3" y="154.89999999999998" font-size="9.4" text-anchor="middle" fill="#222">Wall Thickness (%)</text>
<text x="877.6999999999999" y="189" font-size="22.7" text-anchor="middle" fill="#111">89.7</text>
<text x="975.3" y="154.89999999999998" font-size="9.4" text-anchor="middle" fill="#222">Compensated Wall</text>
<text x="975.3" y="166.39999999999998" font-size="9.4" text-anchor="middle" fill="#222">Thickness (%)</text>
<text x="974.6999999999999" y="189" font-size="22.7" text-anchor="middle" fill="#111">89.7</text>
<path d="M925.2 134.6 V140.4 H919.2 Z" fill="#222"/>
</svg></body></html>
